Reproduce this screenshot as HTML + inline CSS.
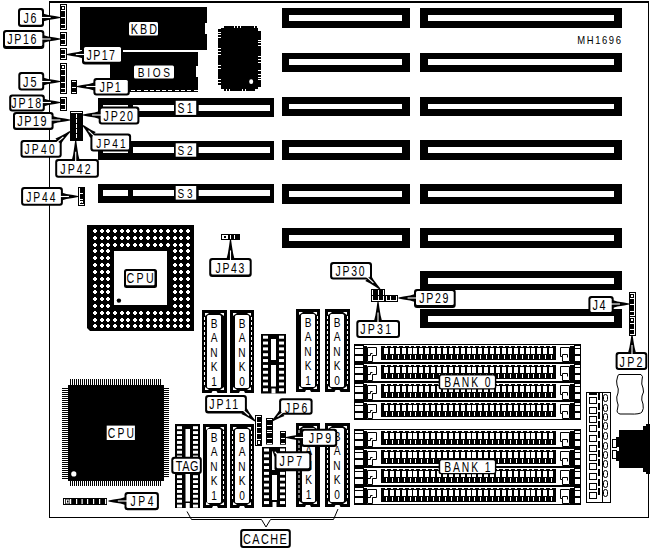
<!DOCTYPE html>
<html><head><meta charset="utf-8"><style>
html,body{margin:0;padding:0;background:#fff;}
svg{display:block;}
text{font-family:"Liberation Sans", sans-serif;}
</style></head><body>
<svg width="652" height="551" viewBox="0 0 652 551">
<g>
<rect x="0" y="0" width="652" height="551" fill="#fff"/>
<rect x="49" y="1" width="600" height="2" fill="#000" />
<rect x="49" y="1" width="1" height="517" fill="#000" />
<rect x="648" y="1" width="1" height="517" fill="#000" />
<rect x="49" y="517" width="600" height="1" fill="#000" />
<rect x="282" y="8" width="128" height="20" fill="#000" />
<rect x="289" y="15" width="113" height="6" fill="#fff" />
<rect x="420" y="8" width="202" height="20" fill="#000" />
<rect x="428" y="15" width="186" height="6" fill="#fff" />
<rect x="282" y="53" width="128" height="19" fill="#000" />
<rect x="289" y="59" width="113" height="6" fill="#fff" />
<rect x="420" y="53" width="202" height="19" fill="#000" />
<rect x="428" y="59" width="186" height="6" fill="#fff" />
<rect x="282" y="97" width="128" height="19" fill="#000" />
<rect x="289" y="104" width="113" height="5" fill="#fff" />
<rect x="420" y="97" width="202" height="19" fill="#000" />
<rect x="428" y="104" width="186" height="5" fill="#fff" />
<rect x="282" y="140" width="128" height="20" fill="#000" />
<rect x="289" y="147" width="113" height="6" fill="#fff" />
<rect x="420" y="140" width="202" height="20" fill="#000" />
<rect x="428" y="147" width="186" height="6" fill="#fff" />
<rect x="282" y="184" width="128" height="20" fill="#000" />
<rect x="289" y="191" width="113" height="6" fill="#fff" />
<rect x="420" y="184" width="202" height="20" fill="#000" />
<rect x="428" y="191" width="186" height="6" fill="#fff" />
<rect x="282" y="228" width="128" height="20" fill="#000" />
<rect x="289" y="235" width="113" height="6" fill="#fff" />
<rect x="420" y="228" width="202" height="20" fill="#000" />
<rect x="428" y="235" width="186" height="6" fill="#fff" />
<rect x="420" y="271" width="202" height="19" fill="#000" />
<rect x="428" y="278" width="186" height="6" fill="#fff" />
<rect x="420" y="309" width="202" height="19" fill="#000" />
<rect x="428" y="316" width="186" height="6" fill="#fff" />
<rect x="98" y="98" width="176" height="19" fill="#000" />
<rect x="103" y="105" width="25" height="6" fill="#fff" />
<rect x="133" y="105" width="41" height="6" fill="#fff" />
<rect x="198.7" y="105" width="71.3" height="6" fill="#fff" />
<rect x="98" y="141" width="176" height="19" fill="#000" />
<rect x="103" y="147" width="25" height="6" fill="#fff" />
<rect x="133" y="147" width="41" height="6" fill="#fff" />
<rect x="198.7" y="147" width="71.3" height="6" fill="#fff" />
<rect x="98" y="184" width="176" height="19" fill="#000" />
<rect x="103" y="190" width="25" height="6" fill="#fff" />
<rect x="133" y="190" width="41" height="6" fill="#fff" />
<rect x="198.7" y="190" width="71.3" height="6" fill="#fff" />
<rect x="80" y="7" width="127" height="43" fill="#000" />
<rect x="205" y="23" width="2" height="11" fill="#fff" />
<rect x="122" y="50" width="85" height="1" fill="#fff" />
<rect x="110" y="52" width="88" height="40" fill="#000" />
<rect x="196" y="66" width="2" height="11" fill="#fff" />
<rect x="131" y="90" width="4" height="1" fill="#fff" />
<rect x="137" y="90" width="4" height="1" fill="#fff" />
<rect x="144" y="90" width="4" height="1" fill="#fff" />
<rect x="150" y="90" width="4" height="1" fill="#fff" />
<rect x="156" y="90" width="4" height="1" fill="#fff" />
<rect x="162" y="90" width="4" height="1" fill="#fff" />
<rect x="168" y="90" width="4" height="1" fill="#fff" />
<rect x="175" y="90" width="4" height="1" fill="#fff" />
<rect x="181" y="90" width="4" height="1" fill="#fff" />
<rect x="187" y="90" width="4" height="1" fill="#fff" />
<rect x="194" y="90" width="4" height="1" fill="#fff" />
<rect x="129" y="22" width="29" height="13.5" fill="#fff"  rx="1.5"/>
<text transform="translate(130.80,33.90) scale(0.75,1)" font-size="14.35" textLength="35.07" lengthAdjust="spacing" fill="#000">KBD</text>
<rect x="134" y="65.5" width="40" height="13.0" fill="#fff"  rx="1.5"/>
<text transform="translate(137.80,76.90) scale(0.75,1)" font-size="13.48" textLength="42.93" lengthAdjust="spacing" fill="#000">BIOS</text>
<polygon points="224,26 257,26 257,28 258,28 258,31 261,31 261,87 258,87 258,89 255,89 255,91 224,91 224,89 221,89 221,85 218,85 218,29 221,29 221,28 224,28" fill="#000" />
<rect x="218" y="32" width="3" height="1" fill="#fff" />
<rect x="218" y="34" width="3" height="1" fill="#fff" />
<rect x="218" y="37" width="3" height="1" fill="#fff" />
<rect x="218" y="48" width="3" height="1" fill="#fff" />
<rect x="218" y="51" width="3" height="1" fill="#fff" />
<rect x="218" y="54" width="3" height="1" fill="#fff" />
<rect x="218" y="65" width="3" height="1" fill="#fff" />
<rect x="218" y="68" width="3" height="1" fill="#fff" />
<rect x="218" y="79" width="3" height="1" fill="#fff" />
<rect x="218" y="82" width="3" height="1" fill="#fff" />
<rect x="258" y="40" width="3" height="1" fill="#fff" />
<rect x="258" y="42" width="3" height="1" fill="#fff" />
<rect x="258" y="45" width="3" height="1" fill="#fff" />
<rect x="258" y="56" width="3" height="1" fill="#fff" />
<rect x="258" y="59" width="3" height="1" fill="#fff" />
<rect x="258" y="62" width="3" height="1" fill="#fff" />
<rect x="258" y="70" width="3" height="1" fill="#fff" />
<rect x="258" y="74" width="3" height="1" fill="#fff" />
<rect x="258" y="77" width="3" height="1" fill="#fff" />
<rect x="258" y="79" width="3" height="1" fill="#fff" />
<rect x="234" y="26" width="1" height="2" fill="#fff" />
<rect x="237" y="26" width="1" height="2" fill="#fff" />
<rect x="240" y="26" width="1" height="2" fill="#fff" />
<rect x="254" y="26" width="1" height="2" fill="#fff" />
<rect x="257" y="26" width="1" height="2" fill="#fff" />
<rect x="226" y="89" width="1" height="2" fill="#fff" />
<rect x="229" y="89" width="1" height="2" fill="#fff" />
<rect x="242" y="89" width="1" height="2" fill="#fff" />
<rect x="245" y="89" width="1" height="2" fill="#fff" />
<ellipse cx="251.2" cy="81.7" rx="2" ry="2.4" fill="#fff"/>
<polygon points="87,225 194,225 194,331 90,331 87,328" fill="#000" />
<rect x="114" y="251" width="53" height="54" fill="#fff" />
<path d="M94,229h2v1h1v2h-1v1h-2v-1h-1v-2h1zM101,229h2v1h1v2h-1v1h-2v-1h-1v-2h1zM107,229h2v1h1v2h-1v1h-2v-1h-1v-2h1zM114,229h2v1h1v2h-1v1h-2v-1h-1v-2h1zM121,229h2v1h1v2h-1v1h-2v-1h-1v-2h1zM127,229h2v1h1v2h-1v1h-2v-1h-1v-2h1zM134,229h2v1h1v2h-1v1h-2v-1h-1v-2h1zM140,229h2v1h1v2h-1v1h-2v-1h-1v-2h1zM147,229h2v1h1v2h-1v1h-2v-1h-1v-2h1zM154,229h2v1h1v2h-1v1h-2v-1h-1v-2h1zM160,229h2v1h1v2h-1v1h-2v-1h-1v-2h1zM167,229h2v1h1v2h-1v1h-2v-1h-1v-2h1zM174,229h2v1h1v2h-1v1h-2v-1h-1v-2h1zM180,229h2v1h1v2h-1v1h-2v-1h-1v-2h1zM187,229h2v1h1v2h-1v1h-2v-1h-1v-2h1zM94,236h2v1h1v2h-1v1h-2v-1h-1v-2h1zM101,236h2v1h1v2h-1v1h-2v-1h-1v-2h1zM107,236h2v1h1v2h-1v1h-2v-1h-1v-2h1zM114,236h2v1h1v2h-1v1h-2v-1h-1v-2h1zM121,236h2v1h1v2h-1v1h-2v-1h-1v-2h1zM127,236h2v1h1v2h-1v1h-2v-1h-1v-2h1zM134,236h2v1h1v2h-1v1h-2v-1h-1v-2h1zM140,236h2v1h1v2h-1v1h-2v-1h-1v-2h1zM147,236h2v1h1v2h-1v1h-2v-1h-1v-2h1zM154,236h2v1h1v2h-1v1h-2v-1h-1v-2h1zM160,236h2v1h1v2h-1v1h-2v-1h-1v-2h1zM167,236h2v1h1v2h-1v1h-2v-1h-1v-2h1zM174,236h2v1h1v2h-1v1h-2v-1h-1v-2h1zM180,236h2v1h1v2h-1v1h-2v-1h-1v-2h1zM187,236h2v1h1v2h-1v1h-2v-1h-1v-2h1zM94,243h2v1h1v2h-1v1h-2v-1h-1v-2h1zM101,243h2v1h1v2h-1v1h-2v-1h-1v-2h1zM107,243h2v1h1v2h-1v1h-2v-1h-1v-2h1zM114,243h2v1h1v2h-1v1h-2v-1h-1v-2h1zM121,243h2v1h1v2h-1v1h-2v-1h-1v-2h1zM127,243h2v1h1v2h-1v1h-2v-1h-1v-2h1zM134,243h2v1h1v2h-1v1h-2v-1h-1v-2h1zM140,243h2v1h1v2h-1v1h-2v-1h-1v-2h1zM147,243h2v1h1v2h-1v1h-2v-1h-1v-2h1zM154,243h2v1h1v2h-1v1h-2v-1h-1v-2h1zM160,243h2v1h1v2h-1v1h-2v-1h-1v-2h1zM167,243h2v1h1v2h-1v1h-2v-1h-1v-2h1zM174,243h2v1h1v2h-1v1h-2v-1h-1v-2h1zM180,243h2v1h1v2h-1v1h-2v-1h-1v-2h1zM187,243h2v1h1v2h-1v1h-2v-1h-1v-2h1zM94,249h2v1h1v2h-1v1h-2v-1h-1v-2h1zM101,249h2v1h1v2h-1v1h-2v-1h-1v-2h1zM107,249h2v1h1v2h-1v1h-2v-1h-1v-2h1zM174,249h2v1h1v2h-1v1h-2v-1h-1v-2h1zM180,249h2v1h1v2h-1v1h-2v-1h-1v-2h1zM187,249h2v1h1v2h-1v1h-2v-1h-1v-2h1zM94,256h2v1h1v2h-1v1h-2v-1h-1v-2h1zM101,256h2v1h1v2h-1v1h-2v-1h-1v-2h1zM107,256h2v1h1v2h-1v1h-2v-1h-1v-2h1zM174,256h2v1h1v2h-1v1h-2v-1h-1v-2h1zM180,256h2v1h1v2h-1v1h-2v-1h-1v-2h1zM187,256h2v1h1v2h-1v1h-2v-1h-1v-2h1zM94,263h2v1h1v2h-1v1h-2v-1h-1v-2h1zM101,263h2v1h1v2h-1v1h-2v-1h-1v-2h1zM107,263h2v1h1v2h-1v1h-2v-1h-1v-2h1zM174,263h2v1h1v2h-1v1h-2v-1h-1v-2h1zM180,263h2v1h1v2h-1v1h-2v-1h-1v-2h1zM187,263h2v1h1v2h-1v1h-2v-1h-1v-2h1zM94,270h2v1h1v2h-1v1h-2v-1h-1v-2h1zM101,270h2v1h1v2h-1v1h-2v-1h-1v-2h1zM107,270h2v1h1v2h-1v1h-2v-1h-1v-2h1zM174,270h2v1h1v2h-1v1h-2v-1h-1v-2h1zM180,270h2v1h1v2h-1v1h-2v-1h-1v-2h1zM187,270h2v1h1v2h-1v1h-2v-1h-1v-2h1zM94,277h2v1h1v2h-1v1h-2v-1h-1v-2h1zM101,277h2v1h1v2h-1v1h-2v-1h-1v-2h1zM107,277h2v1h1v2h-1v1h-2v-1h-1v-2h1zM174,277h2v1h1v2h-1v1h-2v-1h-1v-2h1zM180,277h2v1h1v2h-1v1h-2v-1h-1v-2h1zM187,277h2v1h1v2h-1v1h-2v-1h-1v-2h1zM94,284h2v1h1v2h-1v1h-2v-1h-1v-2h1zM101,284h2v1h1v2h-1v1h-2v-1h-1v-2h1zM107,284h2v1h1v2h-1v1h-2v-1h-1v-2h1zM174,284h2v1h1v2h-1v1h-2v-1h-1v-2h1zM180,284h2v1h1v2h-1v1h-2v-1h-1v-2h1zM187,284h2v1h1v2h-1v1h-2v-1h-1v-2h1zM94,290h2v1h1v2h-1v1h-2v-1h-1v-2h1zM101,290h2v1h1v2h-1v1h-2v-1h-1v-2h1zM107,290h2v1h1v2h-1v1h-2v-1h-1v-2h1zM174,290h2v1h1v2h-1v1h-2v-1h-1v-2h1zM180,290h2v1h1v2h-1v1h-2v-1h-1v-2h1zM187,290h2v1h1v2h-1v1h-2v-1h-1v-2h1zM94,297h2v1h1v2h-1v1h-2v-1h-1v-2h1zM101,297h2v1h1v2h-1v1h-2v-1h-1v-2h1zM107,297h2v1h1v2h-1v1h-2v-1h-1v-2h1zM174,297h2v1h1v2h-1v1h-2v-1h-1v-2h1zM180,297h2v1h1v2h-1v1h-2v-1h-1v-2h1zM187,297h2v1h1v2h-1v1h-2v-1h-1v-2h1zM94,304h2v1h1v2h-1v1h-2v-1h-1v-2h1zM101,304h2v1h1v2h-1v1h-2v-1h-1v-2h1zM107,304h2v1h1v2h-1v1h-2v-1h-1v-2h1zM174,304h2v1h1v2h-1v1h-2v-1h-1v-2h1zM180,304h2v1h1v2h-1v1h-2v-1h-1v-2h1zM187,304h2v1h1v2h-1v1h-2v-1h-1v-2h1zM94,311h2v1h1v2h-1v1h-2v-1h-1v-2h1zM101,311h2v1h1v2h-1v1h-2v-1h-1v-2h1zM107,311h2v1h1v2h-1v1h-2v-1h-1v-2h1zM114,311h2v1h1v2h-1v1h-2v-1h-1v-2h1zM121,311h2v1h1v2h-1v1h-2v-1h-1v-2h1zM127,311h2v1h1v2h-1v1h-2v-1h-1v-2h1zM134,311h2v1h1v2h-1v1h-2v-1h-1v-2h1zM140,311h2v1h1v2h-1v1h-2v-1h-1v-2h1zM147,311h2v1h1v2h-1v1h-2v-1h-1v-2h1zM154,311h2v1h1v2h-1v1h-2v-1h-1v-2h1zM160,311h2v1h1v2h-1v1h-2v-1h-1v-2h1zM167,311h2v1h1v2h-1v1h-2v-1h-1v-2h1zM174,311h2v1h1v2h-1v1h-2v-1h-1v-2h1zM180,311h2v1h1v2h-1v1h-2v-1h-1v-2h1zM187,311h2v1h1v2h-1v1h-2v-1h-1v-2h1zM94,318h2v1h1v2h-1v1h-2v-1h-1v-2h1zM101,318h2v1h1v2h-1v1h-2v-1h-1v-2h1zM107,318h2v1h1v2h-1v1h-2v-1h-1v-2h1zM114,318h2v1h1v2h-1v1h-2v-1h-1v-2h1zM121,318h2v1h1v2h-1v1h-2v-1h-1v-2h1zM127,318h2v1h1v2h-1v1h-2v-1h-1v-2h1zM134,318h2v1h1v2h-1v1h-2v-1h-1v-2h1zM140,318h2v1h1v2h-1v1h-2v-1h-1v-2h1zM147,318h2v1h1v2h-1v1h-2v-1h-1v-2h1zM154,318h2v1h1v2h-1v1h-2v-1h-1v-2h1zM160,318h2v1h1v2h-1v1h-2v-1h-1v-2h1zM167,318h2v1h1v2h-1v1h-2v-1h-1v-2h1zM174,318h2v1h1v2h-1v1h-2v-1h-1v-2h1zM180,318h2v1h1v2h-1v1h-2v-1h-1v-2h1zM187,318h2v1h1v2h-1v1h-2v-1h-1v-2h1zM94,324h2v1h1v2h-1v1h-2v-1h-1v-2h1zM101,324h2v1h1v2h-1v1h-2v-1h-1v-2h1zM107,324h2v1h1v2h-1v1h-2v-1h-1v-2h1zM114,324h2v1h1v2h-1v1h-2v-1h-1v-2h1zM121,324h2v1h1v2h-1v1h-2v-1h-1v-2h1zM127,324h2v1h1v2h-1v1h-2v-1h-1v-2h1zM134,324h2v1h1v2h-1v1h-2v-1h-1v-2h1zM140,324h2v1h1v2h-1v1h-2v-1h-1v-2h1zM147,324h2v1h1v2h-1v1h-2v-1h-1v-2h1zM154,324h2v1h1v2h-1v1h-2v-1h-1v-2h1zM160,324h2v1h1v2h-1v1h-2v-1h-1v-2h1zM167,324h2v1h1v2h-1v1h-2v-1h-1v-2h1zM174,324h2v1h1v2h-1v1h-2v-1h-1v-2h1zM180,324h2v1h1v2h-1v1h-2v-1h-1v-2h1zM187,324h2v1h1v2h-1v1h-2v-1h-1v-2h1z" fill="#fff"/>
<circle cx="118.9" cy="300.6" r="2.2" fill="#000"/>
<rect x="124" y="269" width="33" height="19" fill="#000"  rx="2.5"/>
<rect x="126" y="271" width="28.5" height="14.3" fill="#fff"  rx="1"/>
<text transform="translate(126.60,282.60) scale(0.75,1)" font-size="14.20" textLength="36.00" lengthAdjust="spacing" fill="#000">CPU</text>
<rect x="68" y="385" width="96" height="96" fill="#000" />
<defs><pattern id="pv" width="2" height="10" patternUnits="userSpaceOnUse"><rect x="0" y="0" width="1" height="10" fill="#000"/></pattern><pattern id="ph" width="10" height="2" patternUnits="userSpaceOnUse"><rect x="0" y="0" width="10" height="1" fill="#000"/></pattern></defs>
<rect x="70" y="379" width="92" height="6" fill="url(#pv)" />
<rect x="70" y="481" width="92" height="5" fill="url(#pv)" />
<rect x="62" y="388" width="6" height="91" fill="url(#ph)" />
<rect x="164" y="387" width="5" height="91" fill="url(#ph)" />
<circle cx="73.8" cy="473.9" r="2.6" fill="#fff"/>
<rect x="106.7" y="425.6" width="28.2" height="14.4" fill="#fff" />
<text transform="translate(107.80,438.00) scale(0.75,1)" font-size="13.77" textLength="34.80" lengthAdjust="spacing" fill="#000">CPU</text>
<rect x="202" y="310" width="25" height="83" fill="#000" />
<rect x="207" y="315" width="14" height="73" fill="#fff"  rx="1.5"/>
<polygon points="205,313 209,313 205,316" fill="#fff" />
<polygon points="224,313 220,313 224,316" fill="#fff" />
<polygon points="205,390 209,390 205,387" fill="#fff" />
<polygon points="224,390 220,390 224,387" fill="#fff" />
<rect x="204" y="317" width="1" height="3" fill="#fff" />
<rect x="204" y="322" width="1" height="3" fill="#fff" />
<rect x="204" y="327" width="1" height="3" fill="#fff" />
<rect x="204" y="332" width="1" height="3" fill="#fff" />
<rect x="204" y="337" width="1" height="3" fill="#fff" />
<rect x="204" y="342" width="1" height="3" fill="#fff" />
<rect x="204" y="347" width="1" height="3" fill="#fff" />
<rect x="204" y="352" width="1" height="3" fill="#fff" />
<rect x="204" y="357" width="1" height="3" fill="#fff" />
<rect x="204" y="362" width="1" height="3" fill="#fff" />
<rect x="204" y="367" width="1" height="3" fill="#fff" />
<rect x="204" y="372" width="1" height="3" fill="#fff" />
<rect x="204" y="377" width="1" height="3" fill="#fff" />
<rect x="204" y="382" width="1" height="3" fill="#fff" />
<text transform="translate(214.00,327.50) scale(0.78,1)" font-size="13" text-anchor="middle">B</text>
<text transform="translate(214.00,342.00) scale(0.78,1)" font-size="13" text-anchor="middle">A</text>
<text transform="translate(214.00,356.50) scale(0.78,1)" font-size="13" text-anchor="middle">N</text>
<text transform="translate(214.00,371.00) scale(0.78,1)" font-size="13" text-anchor="middle">K</text>
<text transform="translate(214.00,385.50) scale(0.78,1)" font-size="13" text-anchor="middle">1</text>
<polygon points="211.5,393 212.5,391 216.5,391 217.5,393" fill="#fff" />
<rect x="230" y="310" width="24" height="83" fill="#000" />
<rect x="235" y="315" width="14" height="73" fill="#fff"  rx="1.5"/>
<polygon points="233,313 237,313 233,316" fill="#fff" />
<polygon points="251,313 247,313 251,316" fill="#fff" />
<polygon points="233,390 237,390 233,387" fill="#fff" />
<polygon points="251,390 247,390 251,387" fill="#fff" />
<rect x="251" y="317" width="1" height="3" fill="#fff" />
<rect x="251" y="322" width="1" height="3" fill="#fff" />
<rect x="251" y="327" width="1" height="3" fill="#fff" />
<rect x="251" y="332" width="1" height="3" fill="#fff" />
<rect x="251" y="337" width="1" height="3" fill="#fff" />
<rect x="251" y="342" width="1" height="3" fill="#fff" />
<rect x="251" y="347" width="1" height="3" fill="#fff" />
<rect x="251" y="352" width="1" height="3" fill="#fff" />
<rect x="251" y="357" width="1" height="3" fill="#fff" />
<rect x="251" y="362" width="1" height="3" fill="#fff" />
<rect x="251" y="367" width="1" height="3" fill="#fff" />
<rect x="251" y="372" width="1" height="3" fill="#fff" />
<rect x="251" y="377" width="1" height="3" fill="#fff" />
<rect x="251" y="382" width="1" height="3" fill="#fff" />
<text transform="translate(242.00,327.50) scale(0.78,1)" font-size="13" text-anchor="middle">B</text>
<text transform="translate(242.00,342.00) scale(0.78,1)" font-size="13" text-anchor="middle">A</text>
<text transform="translate(242.00,356.50) scale(0.78,1)" font-size="13" text-anchor="middle">N</text>
<text transform="translate(242.00,371.00) scale(0.78,1)" font-size="13" text-anchor="middle">K</text>
<text transform="translate(242.00,385.50) scale(0.78,1)" font-size="13" text-anchor="middle">0</text>
<polygon points="239.0,393 240.0,391 244.0,391 245.0,393" fill="#fff" />
<rect x="261" y="334" width="25" height="59.5" fill="#000" />
<rect x="263" y="335.7" width="5" height="3.0" fill="#fff" />
<rect x="279" y="335.7" width="5" height="3.0" fill="#fff" />
<rect x="263" y="341.53999999999996" width="5" height="3.0" fill="#fff" />
<rect x="279" y="341.53999999999996" width="5" height="3.0" fill="#fff" />
<rect x="263" y="347.38" width="5" height="3.0" fill="#fff" />
<rect x="279" y="347.38" width="5" height="3.0" fill="#fff" />
<rect x="263" y="353.21999999999997" width="5" height="3.0" fill="#fff" />
<rect x="279" y="353.21999999999997" width="5" height="3.0" fill="#fff" />
<rect x="263" y="359.06" width="5" height="3.0" fill="#fff" />
<rect x="279" y="359.06" width="5" height="3.0" fill="#fff" />
<rect x="263" y="364.9" width="5" height="3.0" fill="#fff" />
<rect x="279" y="364.9" width="5" height="3.0" fill="#fff" />
<rect x="263" y="370.74" width="5" height="3.0" fill="#fff" />
<rect x="279" y="370.74" width="5" height="3.0" fill="#fff" />
<rect x="263" y="376.58" width="5" height="3.0" fill="#fff" />
<rect x="279" y="376.58" width="5" height="3.0" fill="#fff" />
<rect x="263" y="382.41999999999996" width="5" height="3.0" fill="#fff" />
<rect x="279" y="382.41999999999996" width="5" height="3.0" fill="#fff" />
<rect x="263" y="388.26" width="5" height="3.0" fill="#fff" />
<rect x="279" y="388.26" width="5" height="3.0" fill="#fff" />
<rect x="271" y="339" width="5" height="21" fill="#fff" />
<rect x="271" y="365" width="5" height="21.5" fill="#fff" />
<rect x="271.5" y="388.5" width="4.0" height="5.0" fill="#fff" />
<rect x="296" y="309" width="24" height="83" fill="#000" />
<rect x="301" y="314" width="14" height="73" fill="#fff"  rx="1.5"/>
<polygon points="299,312 303,312 299,315" fill="#fff" />
<polygon points="317,312 313,312 317,315" fill="#fff" />
<polygon points="299,389 303,389 299,386" fill="#fff" />
<polygon points="317,389 313,389 317,386" fill="#fff" />
<rect x="317" y="316" width="1" height="3" fill="#fff" />
<rect x="317" y="321" width="1" height="3" fill="#fff" />
<rect x="317" y="326" width="1" height="3" fill="#fff" />
<rect x="317" y="331" width="1" height="3" fill="#fff" />
<rect x="317" y="336" width="1" height="3" fill="#fff" />
<rect x="317" y="341" width="1" height="3" fill="#fff" />
<rect x="317" y="346" width="1" height="3" fill="#fff" />
<rect x="317" y="351" width="1" height="3" fill="#fff" />
<rect x="317" y="356" width="1" height="3" fill="#fff" />
<rect x="317" y="361" width="1" height="3" fill="#fff" />
<rect x="317" y="366" width="1" height="3" fill="#fff" />
<rect x="317" y="371" width="1" height="3" fill="#fff" />
<rect x="317" y="376" width="1" height="3" fill="#fff" />
<rect x="317" y="381" width="1" height="3" fill="#fff" />
<text transform="translate(308.00,326.50) scale(0.78,1)" font-size="13" text-anchor="middle">B</text>
<text transform="translate(308.00,341.00) scale(0.78,1)" font-size="13" text-anchor="middle">A</text>
<text transform="translate(308.00,355.50) scale(0.78,1)" font-size="13" text-anchor="middle">N</text>
<text transform="translate(308.00,370.00) scale(0.78,1)" font-size="13" text-anchor="middle">K</text>
<text transform="translate(308.00,384.50) scale(0.78,1)" font-size="13" text-anchor="middle">1</text>
<polygon points="305.0,392 306.0,390 310.0,390 311.0,392" fill="#fff" />
<rect x="325" y="309" width="25" height="83" fill="#000" />
<rect x="330" y="314" width="14" height="73" fill="#fff"  rx="1.5"/>
<polygon points="328,312 332,312 328,315" fill="#fff" />
<polygon points="347,312 343,312 347,315" fill="#fff" />
<polygon points="328,389 332,389 328,386" fill="#fff" />
<polygon points="347,389 343,389 347,386" fill="#fff" />
<rect x="327" y="316" width="1" height="3" fill="#fff" />
<rect x="327" y="321" width="1" height="3" fill="#fff" />
<rect x="327" y="326" width="1" height="3" fill="#fff" />
<rect x="327" y="331" width="1" height="3" fill="#fff" />
<rect x="327" y="336" width="1" height="3" fill="#fff" />
<rect x="327" y="341" width="1" height="3" fill="#fff" />
<rect x="327" y="346" width="1" height="3" fill="#fff" />
<rect x="327" y="351" width="1" height="3" fill="#fff" />
<rect x="327" y="356" width="1" height="3" fill="#fff" />
<rect x="327" y="361" width="1" height="3" fill="#fff" />
<rect x="327" y="366" width="1" height="3" fill="#fff" />
<rect x="327" y="371" width="1" height="3" fill="#fff" />
<rect x="327" y="376" width="1" height="3" fill="#fff" />
<rect x="327" y="381" width="1" height="3" fill="#fff" />
<rect x="347" y="316" width="1" height="3" fill="#fff" />
<rect x="347" y="321" width="1" height="3" fill="#fff" />
<rect x="347" y="326" width="1" height="3" fill="#fff" />
<rect x="347" y="331" width="1" height="3" fill="#fff" />
<rect x="347" y="336" width="1" height="3" fill="#fff" />
<rect x="347" y="341" width="1" height="3" fill="#fff" />
<rect x="347" y="346" width="1" height="3" fill="#fff" />
<rect x="347" y="351" width="1" height="3" fill="#fff" />
<rect x="347" y="356" width="1" height="3" fill="#fff" />
<rect x="347" y="361" width="1" height="3" fill="#fff" />
<rect x="347" y="366" width="1" height="3" fill="#fff" />
<rect x="347" y="371" width="1" height="3" fill="#fff" />
<rect x="347" y="376" width="1" height="3" fill="#fff" />
<rect x="347" y="381" width="1" height="3" fill="#fff" />
<text transform="translate(337.00,326.50) scale(0.78,1)" font-size="13" text-anchor="middle">B</text>
<text transform="translate(337.00,341.00) scale(0.78,1)" font-size="13" text-anchor="middle">A</text>
<text transform="translate(337.00,355.50) scale(0.78,1)" font-size="13" text-anchor="middle">N</text>
<text transform="translate(337.00,370.00) scale(0.78,1)" font-size="13" text-anchor="middle">K</text>
<text transform="translate(337.00,384.50) scale(0.78,1)" font-size="13" text-anchor="middle">0</text>
<polygon points="334.5,392 335.5,390 339.5,390 340.5,392" fill="#fff" />
<rect x="175" y="424" width="25" height="84" fill="#000" />
<rect x="177" y="426.2" width="5" height="3.0" fill="#fff" />
<rect x="193" y="426.2" width="5" height="3.0" fill="#fff" />
<rect x="177" y="431.09999999999997" width="5" height="3.0" fill="#fff" />
<rect x="193" y="431.09999999999997" width="5" height="3.0" fill="#fff" />
<rect x="177" y="436.0" width="5" height="3.0" fill="#fff" />
<rect x="193" y="436.0" width="5" height="3.0" fill="#fff" />
<rect x="177" y="440.9" width="5" height="3.0" fill="#fff" />
<rect x="193" y="440.9" width="5" height="3.0" fill="#fff" />
<rect x="177" y="445.8" width="5" height="3.0" fill="#fff" />
<rect x="193" y="445.8" width="5" height="3.0" fill="#fff" />
<rect x="177" y="450.7" width="5" height="3.0" fill="#fff" />
<rect x="193" y="450.7" width="5" height="3.0" fill="#fff" />
<rect x="177" y="455.59999999999997" width="5" height="3.0" fill="#fff" />
<rect x="193" y="455.59999999999997" width="5" height="3.0" fill="#fff" />
<rect x="177" y="460.5" width="5" height="3.0" fill="#fff" />
<rect x="193" y="460.5" width="5" height="3.0" fill="#fff" />
<rect x="177" y="465.4" width="5" height="3.0" fill="#fff" />
<rect x="193" y="465.4" width="5" height="3.0" fill="#fff" />
<rect x="177" y="470.3" width="5" height="3.0" fill="#fff" />
<rect x="193" y="470.3" width="5" height="3.0" fill="#fff" />
<rect x="177" y="475.2" width="5" height="3.0" fill="#fff" />
<rect x="193" y="475.2" width="5" height="3.0" fill="#fff" />
<rect x="177" y="480.1" width="5" height="3.0" fill="#fff" />
<rect x="193" y="480.1" width="5" height="3.0" fill="#fff" />
<rect x="177" y="485.0" width="5" height="3.0" fill="#fff" />
<rect x="193" y="485.0" width="5" height="3.0" fill="#fff" />
<rect x="177" y="489.9" width="5" height="3.0" fill="#fff" />
<rect x="193" y="489.9" width="5" height="3.0" fill="#fff" />
<rect x="177" y="494.8" width="5" height="3.0" fill="#fff" />
<rect x="193" y="494.8" width="5" height="3.0" fill="#fff" />
<rect x="177" y="499.7" width="5" height="3.0" fill="#fff" />
<rect x="193" y="499.7" width="5" height="3.0" fill="#fff" />
<rect x="177" y="504.6" width="5" height="3.0" fill="#fff" />
<rect x="193" y="504.6" width="5" height="3.0" fill="#fff" />
<rect x="185.5" y="429" width="4.5" height="72.5" fill="#fff" />
<rect x="185.75" y="503" width="4.0" height="5" fill="#fff" />
<rect x="203" y="424" width="24" height="84" fill="#000" />
<rect x="207" y="429" width="14" height="74" fill="#fff"  rx="1.5"/>
<polygon points="206,427 210,427 206,430" fill="#fff" />
<polygon points="224,427 220,427 224,430" fill="#fff" />
<polygon points="206,505 210,505 206,502" fill="#fff" />
<polygon points="224,505 220,505 224,502" fill="#fff" />
<rect x="223" y="431" width="1" height="3" fill="#fff" />
<rect x="223" y="436" width="1" height="3" fill="#fff" />
<rect x="223" y="441" width="1" height="3" fill="#fff" />
<rect x="223" y="446" width="1" height="3" fill="#fff" />
<rect x="223" y="451" width="1" height="3" fill="#fff" />
<rect x="223" y="456" width="1" height="3" fill="#fff" />
<rect x="223" y="461" width="1" height="3" fill="#fff" />
<rect x="223" y="466" width="1" height="3" fill="#fff" />
<rect x="223" y="471" width="1" height="3" fill="#fff" />
<rect x="223" y="476" width="1" height="3" fill="#fff" />
<rect x="223" y="481" width="1" height="3" fill="#fff" />
<rect x="223" y="486" width="1" height="3" fill="#fff" />
<rect x="223" y="491" width="1" height="3" fill="#fff" />
<rect x="223" y="496" width="1" height="3" fill="#fff" />
<text transform="translate(214.00,441.50) scale(0.78,1)" font-size="13" text-anchor="middle">B</text>
<text transform="translate(214.00,456.00) scale(0.78,1)" font-size="13" text-anchor="middle">A</text>
<text transform="translate(214.00,470.50) scale(0.78,1)" font-size="13" text-anchor="middle">N</text>
<text transform="translate(214.00,485.00) scale(0.78,1)" font-size="13" text-anchor="middle">K</text>
<text transform="translate(214.00,499.50) scale(0.78,1)" font-size="13" text-anchor="middle">1</text>
<polygon points="212.0,508 213.0,506 217.0,506 218.0,508" fill="#fff" />
<rect x="230" y="424" width="24" height="84" fill="#000" />
<rect x="235" y="429" width="14" height="74" fill="#fff"  rx="1.5"/>
<polygon points="233,427 237,427 233,430" fill="#fff" />
<polygon points="251,427 247,427 251,430" fill="#fff" />
<polygon points="233,505 237,505 233,502" fill="#fff" />
<polygon points="251,505 247,505 251,502" fill="#fff" />
<rect x="232" y="431" width="1" height="3" fill="#fff" />
<rect x="232" y="436" width="1" height="3" fill="#fff" />
<rect x="232" y="441" width="1" height="3" fill="#fff" />
<rect x="232" y="446" width="1" height="3" fill="#fff" />
<rect x="232" y="451" width="1" height="3" fill="#fff" />
<rect x="232" y="456" width="1" height="3" fill="#fff" />
<rect x="232" y="461" width="1" height="3" fill="#fff" />
<rect x="232" y="466" width="1" height="3" fill="#fff" />
<rect x="232" y="471" width="1" height="3" fill="#fff" />
<rect x="232" y="476" width="1" height="3" fill="#fff" />
<rect x="232" y="481" width="1" height="3" fill="#fff" />
<rect x="232" y="486" width="1" height="3" fill="#fff" />
<rect x="232" y="491" width="1" height="3" fill="#fff" />
<rect x="232" y="496" width="1" height="3" fill="#fff" />
<rect x="251" y="431" width="1" height="3" fill="#fff" />
<rect x="251" y="436" width="1" height="3" fill="#fff" />
<rect x="251" y="441" width="1" height="3" fill="#fff" />
<rect x="251" y="446" width="1" height="3" fill="#fff" />
<rect x="251" y="451" width="1" height="3" fill="#fff" />
<rect x="251" y="456" width="1" height="3" fill="#fff" />
<rect x="251" y="461" width="1" height="3" fill="#fff" />
<rect x="251" y="466" width="1" height="3" fill="#fff" />
<rect x="251" y="471" width="1" height="3" fill="#fff" />
<rect x="251" y="476" width="1" height="3" fill="#fff" />
<rect x="251" y="481" width="1" height="3" fill="#fff" />
<rect x="251" y="486" width="1" height="3" fill="#fff" />
<rect x="251" y="491" width="1" height="3" fill="#fff" />
<rect x="251" y="496" width="1" height="3" fill="#fff" />
<text transform="translate(242.00,441.50) scale(0.78,1)" font-size="13" text-anchor="middle">B</text>
<text transform="translate(242.00,456.00) scale(0.78,1)" font-size="13" text-anchor="middle">A</text>
<text transform="translate(242.00,470.50) scale(0.78,1)" font-size="13" text-anchor="middle">N</text>
<text transform="translate(242.00,485.00) scale(0.78,1)" font-size="13" text-anchor="middle">K</text>
<text transform="translate(242.00,499.50) scale(0.78,1)" font-size="13" text-anchor="middle">0</text>
<polygon points="239.0,508 240.0,506 244.0,506 245.0,508" fill="#fff" />
<rect x="262" y="447" width="24" height="60" fill="#000" />
<rect x="264" y="448.5" width="5" height="3.0" fill="#fff" />
<rect x="280" y="448.5" width="5" height="3.0" fill="#fff" />
<rect x="264" y="454.34" width="5" height="3.0" fill="#fff" />
<rect x="280" y="454.34" width="5" height="3.0" fill="#fff" />
<rect x="264" y="460.18" width="5" height="3.0" fill="#fff" />
<rect x="280" y="460.18" width="5" height="3.0" fill="#fff" />
<rect x="264" y="466.02" width="5" height="3.0" fill="#fff" />
<rect x="280" y="466.02" width="5" height="3.0" fill="#fff" />
<rect x="264" y="471.86" width="5" height="3.0" fill="#fff" />
<rect x="280" y="471.86" width="5" height="3.0" fill="#fff" />
<rect x="264" y="477.7" width="5" height="3.0" fill="#fff" />
<rect x="280" y="477.7" width="5" height="3.0" fill="#fff" />
<rect x="264" y="483.54" width="5" height="3.0" fill="#fff" />
<rect x="280" y="483.54" width="5" height="3.0" fill="#fff" />
<rect x="264" y="489.38" width="5" height="3.0" fill="#fff" />
<rect x="280" y="489.38" width="5" height="3.0" fill="#fff" />
<rect x="264" y="495.22" width="5" height="3.0" fill="#fff" />
<rect x="280" y="495.22" width="5" height="3.0" fill="#fff" />
<rect x="264" y="501.06" width="5" height="3.0" fill="#fff" />
<rect x="280" y="501.06" width="5" height="3.0" fill="#fff" />
<rect x="272" y="451" width="5" height="19" fill="#fff" />
<rect x="272" y="475" width="5" height="25" fill="#fff" />
<rect x="272.5" y="502" width="4.0" height="5" fill="#fff" />
<rect x="296" y="423" width="24" height="84" fill="#000" />
<rect x="302" y="428" width="13" height="74" fill="#fff"  rx="1.5"/>
<polygon points="299,426 303,426 299,429" fill="#fff" />
<polygon points="317,426 313,426 317,429" fill="#fff" />
<polygon points="299,504 303,504 299,501" fill="#fff" />
<polygon points="317,504 313,504 317,501" fill="#fff" />
<rect x="298.5" y="430" width="1.0" height="3" fill="#fff" />
<rect x="298.5" y="435" width="1.0" height="3" fill="#fff" />
<rect x="298.5" y="440" width="1.0" height="3" fill="#fff" />
<rect x="298.5" y="445" width="1.0" height="3" fill="#fff" />
<rect x="298.5" y="450" width="1.0" height="3" fill="#fff" />
<rect x="298.5" y="455" width="1.0" height="3" fill="#fff" />
<rect x="298.5" y="460" width="1.0" height="3" fill="#fff" />
<rect x="298.5" y="465" width="1.0" height="3" fill="#fff" />
<rect x="298.5" y="470" width="1.0" height="3" fill="#fff" />
<rect x="298.5" y="475" width="1.0" height="3" fill="#fff" />
<rect x="298.5" y="480" width="1.0" height="3" fill="#fff" />
<rect x="298.5" y="485" width="1.0" height="3" fill="#fff" />
<rect x="298.5" y="490" width="1.0" height="3" fill="#fff" />
<rect x="298.5" y="495" width="1.0" height="3" fill="#fff" />
<text transform="translate(308.50,440.50) scale(0.78,1)" font-size="13" text-anchor="middle">B</text>
<text transform="translate(308.50,455.00) scale(0.78,1)" font-size="13" text-anchor="middle">A</text>
<text transform="translate(308.50,469.50) scale(0.78,1)" font-size="13" text-anchor="middle">N</text>
<text transform="translate(308.50,484.00) scale(0.78,1)" font-size="13" text-anchor="middle">K</text>
<text transform="translate(308.50,498.50) scale(0.78,1)" font-size="13" text-anchor="middle">1</text>
<polygon points="305.0,507 306.0,505 310.0,505 311.0,507" fill="#fff" />
<rect x="325" y="423" width="25" height="84" fill="#000" />
<rect x="330" y="428" width="14" height="74" fill="#fff"  rx="1.5"/>
<polygon points="328,426 332,426 328,429" fill="#fff" />
<polygon points="347,426 343,426 347,429" fill="#fff" />
<polygon points="328,504 332,504 328,501" fill="#fff" />
<polygon points="347,504 343,504 347,501" fill="#fff" />
<rect x="327" y="430" width="1" height="3" fill="#fff" />
<rect x="327" y="435" width="1" height="3" fill="#fff" />
<rect x="327" y="440" width="1" height="3" fill="#fff" />
<rect x="327" y="445" width="1" height="3" fill="#fff" />
<rect x="327" y="450" width="1" height="3" fill="#fff" />
<rect x="327" y="455" width="1" height="3" fill="#fff" />
<rect x="327" y="460" width="1" height="3" fill="#fff" />
<rect x="327" y="465" width="1" height="3" fill="#fff" />
<rect x="327" y="470" width="1" height="3" fill="#fff" />
<rect x="327" y="475" width="1" height="3" fill="#fff" />
<rect x="327" y="480" width="1" height="3" fill="#fff" />
<rect x="327" y="485" width="1" height="3" fill="#fff" />
<rect x="327" y="490" width="1" height="3" fill="#fff" />
<rect x="327" y="495" width="1" height="3" fill="#fff" />
<rect x="347" y="430" width="1" height="3" fill="#fff" />
<rect x="347" y="435" width="1" height="3" fill="#fff" />
<rect x="347" y="440" width="1" height="3" fill="#fff" />
<rect x="347" y="445" width="1" height="3" fill="#fff" />
<rect x="347" y="450" width="1" height="3" fill="#fff" />
<rect x="347" y="455" width="1" height="3" fill="#fff" />
<rect x="347" y="460" width="1" height="3" fill="#fff" />
<rect x="347" y="465" width="1" height="3" fill="#fff" />
<rect x="347" y="470" width="1" height="3" fill="#fff" />
<rect x="347" y="475" width="1" height="3" fill="#fff" />
<rect x="347" y="480" width="1" height="3" fill="#fff" />
<rect x="347" y="485" width="1" height="3" fill="#fff" />
<rect x="347" y="490" width="1" height="3" fill="#fff" />
<rect x="347" y="495" width="1" height="3" fill="#fff" />
<text transform="translate(337.00,440.50) scale(0.78,1)" font-size="13" text-anchor="middle">B</text>
<text transform="translate(337.00,455.00) scale(0.78,1)" font-size="13" text-anchor="middle">A</text>
<text transform="translate(337.00,469.50) scale(0.78,1)" font-size="13" text-anchor="middle">N</text>
<text transform="translate(337.00,484.00) scale(0.78,1)" font-size="13" text-anchor="middle">K</text>
<text transform="translate(337.00,498.50) scale(0.78,1)" font-size="13" text-anchor="middle">0</text>
<polygon points="334.5,507 335.5,505 339.5,505 340.5,507" fill="#fff" />
<rect x="354" y="344" width="227" height="1" fill="#000" />
<rect x="354" y="362" width="227" height="1" fill="#000" />
<rect x="354" y="344" width="1" height="19" fill="#000" />
<rect x="580" y="344" width="1" height="19" fill="#000" />
<rect x="355" y="345" width="9" height="17" fill="#000" />
<rect x="355" y="346" width="8" height="2" fill="#fff" />
<rect x="355" y="349" width="8" height="5" fill="#fff" />
<rect x="355" y="356" width="8" height="5" fill="#fff" />
<rect x="364" y="346" width="3" height="16" fill="#000" />
<path d="M367.5,347.5 H376.5 V355.5 H372.5 V361.5 H367.5 Z M367.5,355.5 H370.5 V353.5 H372.5" fill="#fff" stroke="#000" stroke-width="1"/>
<path d="M569.5,347.5 H560.5 V356.5 H562.5 V361.5 H569.5 Z M562.5,356.5 V354.5 H567.5 V357.5" fill="#fff" stroke="#000" stroke-width="1"/>
<rect x="570" y="346" width="4" height="16" fill="#000" />
<rect x="574" y="345" width="6" height="17" fill="#000" />
<rect x="575" y="346" width="5" height="2" fill="#fff" />
<rect x="575" y="349" width="5" height="5" fill="#fff" />
<rect x="575" y="356" width="5" height="5" fill="#fff" />
<rect x="381" y="346" width="175" height="14" fill="#000" />
<rect x="384" y="348" width="4" height="6" fill="#fff" />
<rect x="386" y="355" width="1" height="4" fill="#fff" />
<rect x="385" y="346" width="2" height="1" fill="#fff" />
<rect x="390" y="348" width="4" height="6" fill="#fff" />
<rect x="392" y="355" width="1" height="4" fill="#fff" />
<rect x="391" y="346" width="2" height="1" fill="#fff" />
<rect x="396" y="348" width="4" height="6" fill="#fff" />
<rect x="398" y="355" width="1" height="4" fill="#fff" />
<rect x="397" y="346" width="2" height="1" fill="#fff" />
<rect x="402" y="348" width="4" height="6" fill="#fff" />
<rect x="404" y="355" width="1" height="4" fill="#fff" />
<rect x="403" y="346" width="2" height="1" fill="#fff" />
<rect x="408" y="348" width="4" height="6" fill="#fff" />
<rect x="410" y="355" width="1" height="4" fill="#fff" />
<rect x="409" y="346" width="2" height="1" fill="#fff" />
<rect x="413" y="348" width="4" height="6" fill="#fff" />
<rect x="415" y="355" width="1" height="4" fill="#fff" />
<rect x="414" y="346" width="2" height="1" fill="#fff" />
<rect x="419" y="348" width="4" height="6" fill="#fff" />
<rect x="421" y="355" width="1" height="4" fill="#fff" />
<rect x="420" y="346" width="2" height="1" fill="#fff" />
<rect x="425" y="348" width="4" height="6" fill="#fff" />
<rect x="427" y="355" width="1" height="4" fill="#fff" />
<rect x="426" y="346" width="2" height="1" fill="#fff" />
<rect x="431" y="348" width="4" height="6" fill="#fff" />
<rect x="433" y="355" width="1" height="4" fill="#fff" />
<rect x="432" y="346" width="2" height="1" fill="#fff" />
<rect x="437" y="348" width="4" height="6" fill="#fff" />
<rect x="439" y="355" width="1" height="4" fill="#fff" />
<rect x="438" y="346" width="2" height="1" fill="#fff" />
<rect x="443" y="348" width="4" height="6" fill="#fff" />
<rect x="445" y="355" width="1" height="4" fill="#fff" />
<rect x="444" y="346" width="2" height="1" fill="#fff" />
<rect x="449" y="348" width="4" height="6" fill="#fff" />
<rect x="451" y="355" width="1" height="4" fill="#fff" />
<rect x="450" y="346" width="2" height="1" fill="#fff" />
<rect x="455" y="348" width="4" height="6" fill="#fff" />
<rect x="457" y="355" width="1" height="4" fill="#fff" />
<rect x="456" y="346" width="2" height="1" fill="#fff" />
<rect x="461" y="348" width="4" height="6" fill="#fff" />
<rect x="463" y="355" width="1" height="4" fill="#fff" />
<rect x="462" y="346" width="2" height="1" fill="#fff" />
<rect x="467" y="348" width="4" height="6" fill="#fff" />
<rect x="469" y="355" width="1" height="4" fill="#fff" />
<rect x="468" y="346" width="2" height="1" fill="#fff" />
<rect x="472" y="348" width="4" height="6" fill="#fff" />
<rect x="474" y="355" width="1" height="4" fill="#fff" />
<rect x="473" y="346" width="2" height="1" fill="#fff" />
<rect x="478" y="348" width="4" height="6" fill="#fff" />
<rect x="480" y="355" width="1" height="4" fill="#fff" />
<rect x="479" y="346" width="2" height="1" fill="#fff" />
<rect x="484" y="348" width="4" height="6" fill="#fff" />
<rect x="486" y="355" width="1" height="4" fill="#fff" />
<rect x="485" y="346" width="2" height="1" fill="#fff" />
<rect x="490" y="348" width="4" height="6" fill="#fff" />
<rect x="492" y="355" width="1" height="4" fill="#fff" />
<rect x="491" y="346" width="2" height="1" fill="#fff" />
<rect x="496" y="348" width="4" height="6" fill="#fff" />
<rect x="498" y="355" width="1" height="4" fill="#fff" />
<rect x="497" y="346" width="2" height="1" fill="#fff" />
<rect x="502" y="348" width="4" height="6" fill="#fff" />
<rect x="504" y="355" width="1" height="4" fill="#fff" />
<rect x="503" y="346" width="2" height="1" fill="#fff" />
<rect x="508" y="348" width="4" height="6" fill="#fff" />
<rect x="510" y="355" width="1" height="4" fill="#fff" />
<rect x="509" y="346" width="2" height="1" fill="#fff" />
<rect x="514" y="348" width="4" height="6" fill="#fff" />
<rect x="516" y="355" width="1" height="4" fill="#fff" />
<rect x="515" y="346" width="2" height="1" fill="#fff" />
<rect x="520" y="348" width="4" height="6" fill="#fff" />
<rect x="522" y="355" width="1" height="4" fill="#fff" />
<rect x="521" y="346" width="2" height="1" fill="#fff" />
<rect x="526" y="348" width="4" height="6" fill="#fff" />
<rect x="528" y="355" width="1" height="4" fill="#fff" />
<rect x="527" y="346" width="2" height="1" fill="#fff" />
<rect x="531" y="348" width="4" height="6" fill="#fff" />
<rect x="533" y="355" width="1" height="4" fill="#fff" />
<rect x="532" y="346" width="2" height="1" fill="#fff" />
<rect x="537" y="348" width="4" height="6" fill="#fff" />
<rect x="539" y="355" width="1" height="4" fill="#fff" />
<rect x="538" y="346" width="2" height="1" fill="#fff" />
<rect x="543" y="348" width="4" height="6" fill="#fff" />
<rect x="545" y="355" width="1" height="4" fill="#fff" />
<rect x="544" y="346" width="2" height="1" fill="#fff" />
<rect x="549" y="348" width="4" height="6" fill="#fff" />
<rect x="551" y="355" width="1" height="4" fill="#fff" />
<rect x="550" y="346" width="2" height="1" fill="#fff" />
<rect x="354" y="363" width="227" height="1" fill="#000" />
<rect x="354" y="381" width="227" height="1" fill="#000" />
<rect x="354" y="363" width="1" height="19" fill="#000" />
<rect x="580" y="363" width="1" height="19" fill="#000" />
<rect x="355" y="364" width="9" height="17" fill="#000" />
<rect x="355" y="365" width="8" height="2" fill="#fff" />
<rect x="355" y="368" width="8" height="5" fill="#fff" />
<rect x="355" y="375" width="8" height="5" fill="#fff" />
<rect x="364" y="365" width="3" height="16" fill="#000" />
<path d="M367.5,366.5 H376.5 V374.5 H372.5 V380.5 H367.5 Z M367.5,374.5 H370.5 V372.5 H372.5" fill="#fff" stroke="#000" stroke-width="1"/>
<path d="M569.5,366.5 H560.5 V375.5 H562.5 V380.5 H569.5 Z M562.5,375.5 V373.5 H567.5 V376.5" fill="#fff" stroke="#000" stroke-width="1"/>
<rect x="570" y="365" width="4" height="16" fill="#000" />
<rect x="574" y="364" width="6" height="17" fill="#000" />
<rect x="575" y="365" width="5" height="2" fill="#fff" />
<rect x="575" y="368" width="5" height="5" fill="#fff" />
<rect x="575" y="375" width="5" height="5" fill="#fff" />
<rect x="381" y="365" width="175" height="14" fill="#000" />
<rect x="384" y="367" width="4" height="6" fill="#fff" />
<rect x="386" y="374" width="1" height="4" fill="#fff" />
<rect x="385" y="365" width="2" height="1" fill="#fff" />
<rect x="390" y="367" width="4" height="6" fill="#fff" />
<rect x="392" y="374" width="1" height="4" fill="#fff" />
<rect x="391" y="365" width="2" height="1" fill="#fff" />
<rect x="396" y="367" width="4" height="6" fill="#fff" />
<rect x="398" y="374" width="1" height="4" fill="#fff" />
<rect x="397" y="365" width="2" height="1" fill="#fff" />
<rect x="402" y="367" width="4" height="6" fill="#fff" />
<rect x="404" y="374" width="1" height="4" fill="#fff" />
<rect x="403" y="365" width="2" height="1" fill="#fff" />
<rect x="408" y="367" width="4" height="6" fill="#fff" />
<rect x="410" y="374" width="1" height="4" fill="#fff" />
<rect x="409" y="365" width="2" height="1" fill="#fff" />
<rect x="413" y="367" width="4" height="6" fill="#fff" />
<rect x="415" y="374" width="1" height="4" fill="#fff" />
<rect x="414" y="365" width="2" height="1" fill="#fff" />
<rect x="419" y="367" width="4" height="6" fill="#fff" />
<rect x="421" y="374" width="1" height="4" fill="#fff" />
<rect x="420" y="365" width="2" height="1" fill="#fff" />
<rect x="425" y="367" width="4" height="6" fill="#fff" />
<rect x="427" y="374" width="1" height="4" fill="#fff" />
<rect x="426" y="365" width="2" height="1" fill="#fff" />
<rect x="431" y="367" width="4" height="6" fill="#fff" />
<rect x="433" y="374" width="1" height="4" fill="#fff" />
<rect x="432" y="365" width="2" height="1" fill="#fff" />
<rect x="437" y="367" width="4" height="6" fill="#fff" />
<rect x="439" y="374" width="1" height="4" fill="#fff" />
<rect x="438" y="365" width="2" height="1" fill="#fff" />
<rect x="443" y="367" width="4" height="6" fill="#fff" />
<rect x="445" y="374" width="1" height="4" fill="#fff" />
<rect x="444" y="365" width="2" height="1" fill="#fff" />
<rect x="449" y="367" width="4" height="6" fill="#fff" />
<rect x="451" y="374" width="1" height="4" fill="#fff" />
<rect x="450" y="365" width="2" height="1" fill="#fff" />
<rect x="455" y="367" width="4" height="6" fill="#fff" />
<rect x="457" y="374" width="1" height="4" fill="#fff" />
<rect x="456" y="365" width="2" height="1" fill="#fff" />
<rect x="461" y="367" width="4" height="6" fill="#fff" />
<rect x="463" y="374" width="1" height="4" fill="#fff" />
<rect x="462" y="365" width="2" height="1" fill="#fff" />
<rect x="467" y="367" width="4" height="6" fill="#fff" />
<rect x="469" y="374" width="1" height="4" fill="#fff" />
<rect x="468" y="365" width="2" height="1" fill="#fff" />
<rect x="472" y="367" width="4" height="6" fill="#fff" />
<rect x="474" y="374" width="1" height="4" fill="#fff" />
<rect x="473" y="365" width="2" height="1" fill="#fff" />
<rect x="478" y="367" width="4" height="6" fill="#fff" />
<rect x="480" y="374" width="1" height="4" fill="#fff" />
<rect x="479" y="365" width="2" height="1" fill="#fff" />
<rect x="484" y="367" width="4" height="6" fill="#fff" />
<rect x="486" y="374" width="1" height="4" fill="#fff" />
<rect x="485" y="365" width="2" height="1" fill="#fff" />
<rect x="490" y="367" width="4" height="6" fill="#fff" />
<rect x="492" y="374" width="1" height="4" fill="#fff" />
<rect x="491" y="365" width="2" height="1" fill="#fff" />
<rect x="496" y="367" width="4" height="6" fill="#fff" />
<rect x="498" y="374" width="1" height="4" fill="#fff" />
<rect x="497" y="365" width="2" height="1" fill="#fff" />
<rect x="502" y="367" width="4" height="6" fill="#fff" />
<rect x="504" y="374" width="1" height="4" fill="#fff" />
<rect x="503" y="365" width="2" height="1" fill="#fff" />
<rect x="508" y="367" width="4" height="6" fill="#fff" />
<rect x="510" y="374" width="1" height="4" fill="#fff" />
<rect x="509" y="365" width="2" height="1" fill="#fff" />
<rect x="514" y="367" width="4" height="6" fill="#fff" />
<rect x="516" y="374" width="1" height="4" fill="#fff" />
<rect x="515" y="365" width="2" height="1" fill="#fff" />
<rect x="520" y="367" width="4" height="6" fill="#fff" />
<rect x="522" y="374" width="1" height="4" fill="#fff" />
<rect x="521" y="365" width="2" height="1" fill="#fff" />
<rect x="526" y="367" width="4" height="6" fill="#fff" />
<rect x="528" y="374" width="1" height="4" fill="#fff" />
<rect x="527" y="365" width="2" height="1" fill="#fff" />
<rect x="531" y="367" width="4" height="6" fill="#fff" />
<rect x="533" y="374" width="1" height="4" fill="#fff" />
<rect x="532" y="365" width="2" height="1" fill="#fff" />
<rect x="537" y="367" width="4" height="6" fill="#fff" />
<rect x="539" y="374" width="1" height="4" fill="#fff" />
<rect x="538" y="365" width="2" height="1" fill="#fff" />
<rect x="543" y="367" width="4" height="6" fill="#fff" />
<rect x="545" y="374" width="1" height="4" fill="#fff" />
<rect x="544" y="365" width="2" height="1" fill="#fff" />
<rect x="549" y="367" width="4" height="6" fill="#fff" />
<rect x="551" y="374" width="1" height="4" fill="#fff" />
<rect x="550" y="365" width="2" height="1" fill="#fff" />
<rect x="354" y="382" width="227" height="1" fill="#000" />
<rect x="354" y="400" width="227" height="1" fill="#000" />
<rect x="354" y="382" width="1" height="19" fill="#000" />
<rect x="580" y="382" width="1" height="19" fill="#000" />
<rect x="355" y="383" width="9" height="17" fill="#000" />
<rect x="355" y="384" width="8" height="2" fill="#fff" />
<rect x="355" y="387" width="8" height="5" fill="#fff" />
<rect x="355" y="394" width="8" height="5" fill="#fff" />
<rect x="364" y="384" width="3" height="16" fill="#000" />
<path d="M367.5,385.5 H376.5 V393.5 H372.5 V399.5 H367.5 Z M367.5,393.5 H370.5 V391.5 H372.5" fill="#fff" stroke="#000" stroke-width="1"/>
<path d="M569.5,385.5 H560.5 V394.5 H562.5 V399.5 H569.5 Z M562.5,394.5 V392.5 H567.5 V395.5" fill="#fff" stroke="#000" stroke-width="1"/>
<rect x="570" y="384" width="4" height="16" fill="#000" />
<rect x="574" y="383" width="6" height="17" fill="#000" />
<rect x="575" y="384" width="5" height="2" fill="#fff" />
<rect x="575" y="387" width="5" height="5" fill="#fff" />
<rect x="575" y="394" width="5" height="5" fill="#fff" />
<rect x="381" y="384" width="175" height="14" fill="#000" />
<rect x="384" y="386" width="4" height="6" fill="#fff" />
<rect x="386" y="393" width="1" height="4" fill="#fff" />
<rect x="385" y="384" width="2" height="1" fill="#fff" />
<rect x="390" y="386" width="4" height="6" fill="#fff" />
<rect x="392" y="393" width="1" height="4" fill="#fff" />
<rect x="391" y="384" width="2" height="1" fill="#fff" />
<rect x="396" y="386" width="4" height="6" fill="#fff" />
<rect x="398" y="393" width="1" height="4" fill="#fff" />
<rect x="397" y="384" width="2" height="1" fill="#fff" />
<rect x="402" y="386" width="4" height="6" fill="#fff" />
<rect x="404" y="393" width="1" height="4" fill="#fff" />
<rect x="403" y="384" width="2" height="1" fill="#fff" />
<rect x="408" y="386" width="4" height="6" fill="#fff" />
<rect x="410" y="393" width="1" height="4" fill="#fff" />
<rect x="409" y="384" width="2" height="1" fill="#fff" />
<rect x="413" y="386" width="4" height="6" fill="#fff" />
<rect x="415" y="393" width="1" height="4" fill="#fff" />
<rect x="414" y="384" width="2" height="1" fill="#fff" />
<rect x="419" y="386" width="4" height="6" fill="#fff" />
<rect x="421" y="393" width="1" height="4" fill="#fff" />
<rect x="420" y="384" width="2" height="1" fill="#fff" />
<rect x="425" y="386" width="4" height="6" fill="#fff" />
<rect x="427" y="393" width="1" height="4" fill="#fff" />
<rect x="426" y="384" width="2" height="1" fill="#fff" />
<rect x="431" y="386" width="4" height="6" fill="#fff" />
<rect x="433" y="393" width="1" height="4" fill="#fff" />
<rect x="432" y="384" width="2" height="1" fill="#fff" />
<rect x="437" y="386" width="4" height="6" fill="#fff" />
<rect x="439" y="393" width="1" height="4" fill="#fff" />
<rect x="438" y="384" width="2" height="1" fill="#fff" />
<rect x="443" y="386" width="4" height="6" fill="#fff" />
<rect x="445" y="393" width="1" height="4" fill="#fff" />
<rect x="444" y="384" width="2" height="1" fill="#fff" />
<rect x="449" y="386" width="4" height="6" fill="#fff" />
<rect x="451" y="393" width="1" height="4" fill="#fff" />
<rect x="450" y="384" width="2" height="1" fill="#fff" />
<rect x="455" y="386" width="4" height="6" fill="#fff" />
<rect x="457" y="393" width="1" height="4" fill="#fff" />
<rect x="456" y="384" width="2" height="1" fill="#fff" />
<rect x="461" y="386" width="4" height="6" fill="#fff" />
<rect x="463" y="393" width="1" height="4" fill="#fff" />
<rect x="462" y="384" width="2" height="1" fill="#fff" />
<rect x="467" y="386" width="4" height="6" fill="#fff" />
<rect x="469" y="393" width="1" height="4" fill="#fff" />
<rect x="468" y="384" width="2" height="1" fill="#fff" />
<rect x="472" y="386" width="4" height="6" fill="#fff" />
<rect x="474" y="393" width="1" height="4" fill="#fff" />
<rect x="473" y="384" width="2" height="1" fill="#fff" />
<rect x="478" y="386" width="4" height="6" fill="#fff" />
<rect x="480" y="393" width="1" height="4" fill="#fff" />
<rect x="479" y="384" width="2" height="1" fill="#fff" />
<rect x="484" y="386" width="4" height="6" fill="#fff" />
<rect x="486" y="393" width="1" height="4" fill="#fff" />
<rect x="485" y="384" width="2" height="1" fill="#fff" />
<rect x="490" y="386" width="4" height="6" fill="#fff" />
<rect x="492" y="393" width="1" height="4" fill="#fff" />
<rect x="491" y="384" width="2" height="1" fill="#fff" />
<rect x="496" y="386" width="4" height="6" fill="#fff" />
<rect x="498" y="393" width="1" height="4" fill="#fff" />
<rect x="497" y="384" width="2" height="1" fill="#fff" />
<rect x="502" y="386" width="4" height="6" fill="#fff" />
<rect x="504" y="393" width="1" height="4" fill="#fff" />
<rect x="503" y="384" width="2" height="1" fill="#fff" />
<rect x="508" y="386" width="4" height="6" fill="#fff" />
<rect x="510" y="393" width="1" height="4" fill="#fff" />
<rect x="509" y="384" width="2" height="1" fill="#fff" />
<rect x="514" y="386" width="4" height="6" fill="#fff" />
<rect x="516" y="393" width="1" height="4" fill="#fff" />
<rect x="515" y="384" width="2" height="1" fill="#fff" />
<rect x="520" y="386" width="4" height="6" fill="#fff" />
<rect x="522" y="393" width="1" height="4" fill="#fff" />
<rect x="521" y="384" width="2" height="1" fill="#fff" />
<rect x="526" y="386" width="4" height="6" fill="#fff" />
<rect x="528" y="393" width="1" height="4" fill="#fff" />
<rect x="527" y="384" width="2" height="1" fill="#fff" />
<rect x="531" y="386" width="4" height="6" fill="#fff" />
<rect x="533" y="393" width="1" height="4" fill="#fff" />
<rect x="532" y="384" width="2" height="1" fill="#fff" />
<rect x="537" y="386" width="4" height="6" fill="#fff" />
<rect x="539" y="393" width="1" height="4" fill="#fff" />
<rect x="538" y="384" width="2" height="1" fill="#fff" />
<rect x="543" y="386" width="4" height="6" fill="#fff" />
<rect x="545" y="393" width="1" height="4" fill="#fff" />
<rect x="544" y="384" width="2" height="1" fill="#fff" />
<rect x="549" y="386" width="4" height="6" fill="#fff" />
<rect x="551" y="393" width="1" height="4" fill="#fff" />
<rect x="550" y="384" width="2" height="1" fill="#fff" />
<rect x="354" y="401" width="227" height="1" fill="#000" />
<rect x="354" y="419" width="227" height="1" fill="#000" />
<rect x="354" y="401" width="1" height="19" fill="#000" />
<rect x="580" y="401" width="1" height="19" fill="#000" />
<rect x="355" y="402" width="9" height="17" fill="#000" />
<rect x="355" y="403" width="8" height="2" fill="#fff" />
<rect x="355" y="406" width="8" height="5" fill="#fff" />
<rect x="355" y="413" width="8" height="5" fill="#fff" />
<rect x="364" y="403" width="3" height="16" fill="#000" />
<path d="M367.5,404.5 H376.5 V412.5 H372.5 V418.5 H367.5 Z M367.5,412.5 H370.5 V410.5 H372.5" fill="#fff" stroke="#000" stroke-width="1"/>
<path d="M569.5,404.5 H560.5 V413.5 H562.5 V418.5 H569.5 Z M562.5,413.5 V411.5 H567.5 V414.5" fill="#fff" stroke="#000" stroke-width="1"/>
<rect x="570" y="403" width="4" height="16" fill="#000" />
<rect x="574" y="402" width="6" height="17" fill="#000" />
<rect x="575" y="403" width="5" height="2" fill="#fff" />
<rect x="575" y="406" width="5" height="5" fill="#fff" />
<rect x="575" y="413" width="5" height="5" fill="#fff" />
<rect x="381" y="403" width="175" height="14" fill="#000" />
<rect x="384" y="405" width="4" height="6" fill="#fff" />
<rect x="386" y="412" width="1" height="4" fill="#fff" />
<rect x="385" y="403" width="2" height="1" fill="#fff" />
<rect x="390" y="405" width="4" height="6" fill="#fff" />
<rect x="392" y="412" width="1" height="4" fill="#fff" />
<rect x="391" y="403" width="2" height="1" fill="#fff" />
<rect x="396" y="405" width="4" height="6" fill="#fff" />
<rect x="398" y="412" width="1" height="4" fill="#fff" />
<rect x="397" y="403" width="2" height="1" fill="#fff" />
<rect x="402" y="405" width="4" height="6" fill="#fff" />
<rect x="404" y="412" width="1" height="4" fill="#fff" />
<rect x="403" y="403" width="2" height="1" fill="#fff" />
<rect x="408" y="405" width="4" height="6" fill="#fff" />
<rect x="410" y="412" width="1" height="4" fill="#fff" />
<rect x="409" y="403" width="2" height="1" fill="#fff" />
<rect x="413" y="405" width="4" height="6" fill="#fff" />
<rect x="415" y="412" width="1" height="4" fill="#fff" />
<rect x="414" y="403" width="2" height="1" fill="#fff" />
<rect x="419" y="405" width="4" height="6" fill="#fff" />
<rect x="421" y="412" width="1" height="4" fill="#fff" />
<rect x="420" y="403" width="2" height="1" fill="#fff" />
<rect x="425" y="405" width="4" height="6" fill="#fff" />
<rect x="427" y="412" width="1" height="4" fill="#fff" />
<rect x="426" y="403" width="2" height="1" fill="#fff" />
<rect x="431" y="405" width="4" height="6" fill="#fff" />
<rect x="433" y="412" width="1" height="4" fill="#fff" />
<rect x="432" y="403" width="2" height="1" fill="#fff" />
<rect x="437" y="405" width="4" height="6" fill="#fff" />
<rect x="439" y="412" width="1" height="4" fill="#fff" />
<rect x="438" y="403" width="2" height="1" fill="#fff" />
<rect x="443" y="405" width="4" height="6" fill="#fff" />
<rect x="445" y="412" width="1" height="4" fill="#fff" />
<rect x="444" y="403" width="2" height="1" fill="#fff" />
<rect x="449" y="405" width="4" height="6" fill="#fff" />
<rect x="451" y="412" width="1" height="4" fill="#fff" />
<rect x="450" y="403" width="2" height="1" fill="#fff" />
<rect x="455" y="405" width="4" height="6" fill="#fff" />
<rect x="457" y="412" width="1" height="4" fill="#fff" />
<rect x="456" y="403" width="2" height="1" fill="#fff" />
<rect x="461" y="405" width="4" height="6" fill="#fff" />
<rect x="463" y="412" width="1" height="4" fill="#fff" />
<rect x="462" y="403" width="2" height="1" fill="#fff" />
<rect x="467" y="405" width="4" height="6" fill="#fff" />
<rect x="469" y="412" width="1" height="4" fill="#fff" />
<rect x="468" y="403" width="2" height="1" fill="#fff" />
<rect x="472" y="405" width="4" height="6" fill="#fff" />
<rect x="474" y="412" width="1" height="4" fill="#fff" />
<rect x="473" y="403" width="2" height="1" fill="#fff" />
<rect x="478" y="405" width="4" height="6" fill="#fff" />
<rect x="480" y="412" width="1" height="4" fill="#fff" />
<rect x="479" y="403" width="2" height="1" fill="#fff" />
<rect x="484" y="405" width="4" height="6" fill="#fff" />
<rect x="486" y="412" width="1" height="4" fill="#fff" />
<rect x="485" y="403" width="2" height="1" fill="#fff" />
<rect x="490" y="405" width="4" height="6" fill="#fff" />
<rect x="492" y="412" width="1" height="4" fill="#fff" />
<rect x="491" y="403" width="2" height="1" fill="#fff" />
<rect x="496" y="405" width="4" height="6" fill="#fff" />
<rect x="498" y="412" width="1" height="4" fill="#fff" />
<rect x="497" y="403" width="2" height="1" fill="#fff" />
<rect x="502" y="405" width="4" height="6" fill="#fff" />
<rect x="504" y="412" width="1" height="4" fill="#fff" />
<rect x="503" y="403" width="2" height="1" fill="#fff" />
<rect x="508" y="405" width="4" height="6" fill="#fff" />
<rect x="510" y="412" width="1" height="4" fill="#fff" />
<rect x="509" y="403" width="2" height="1" fill="#fff" />
<rect x="514" y="405" width="4" height="6" fill="#fff" />
<rect x="516" y="412" width="1" height="4" fill="#fff" />
<rect x="515" y="403" width="2" height="1" fill="#fff" />
<rect x="520" y="405" width="4" height="6" fill="#fff" />
<rect x="522" y="412" width="1" height="4" fill="#fff" />
<rect x="521" y="403" width="2" height="1" fill="#fff" />
<rect x="526" y="405" width="4" height="6" fill="#fff" />
<rect x="528" y="412" width="1" height="4" fill="#fff" />
<rect x="527" y="403" width="2" height="1" fill="#fff" />
<rect x="531" y="405" width="4" height="6" fill="#fff" />
<rect x="533" y="412" width="1" height="4" fill="#fff" />
<rect x="532" y="403" width="2" height="1" fill="#fff" />
<rect x="537" y="405" width="4" height="6" fill="#fff" />
<rect x="539" y="412" width="1" height="4" fill="#fff" />
<rect x="538" y="403" width="2" height="1" fill="#fff" />
<rect x="543" y="405" width="4" height="6" fill="#fff" />
<rect x="545" y="412" width="1" height="4" fill="#fff" />
<rect x="544" y="403" width="2" height="1" fill="#fff" />
<rect x="549" y="405" width="4" height="6" fill="#fff" />
<rect x="551" y="412" width="1" height="4" fill="#fff" />
<rect x="550" y="403" width="2" height="1" fill="#fff" />
<rect x="354" y="429" width="227" height="1" fill="#000" />
<rect x="354" y="447" width="227" height="1" fill="#000" />
<rect x="354" y="429" width="1" height="19" fill="#000" />
<rect x="580" y="429" width="1" height="19" fill="#000" />
<rect x="355" y="430" width="9" height="17" fill="#000" />
<rect x="355" y="431" width="8" height="2" fill="#fff" />
<rect x="355" y="434" width="8" height="5" fill="#fff" />
<rect x="355" y="441" width="8" height="5" fill="#fff" />
<rect x="364" y="431" width="3" height="16" fill="#000" />
<path d="M367.5,432.5 H376.5 V440.5 H372.5 V446.5 H367.5 Z M367.5,440.5 H370.5 V438.5 H372.5" fill="#fff" stroke="#000" stroke-width="1"/>
<path d="M569.5,432.5 H560.5 V441.5 H562.5 V446.5 H569.5 Z M562.5,441.5 V439.5 H567.5 V442.5" fill="#fff" stroke="#000" stroke-width="1"/>
<rect x="570" y="431" width="4" height="16" fill="#000" />
<rect x="574" y="430" width="6" height="17" fill="#000" />
<rect x="575" y="431" width="5" height="2" fill="#fff" />
<rect x="575" y="434" width="5" height="5" fill="#fff" />
<rect x="575" y="441" width="5" height="5" fill="#fff" />
<rect x="381" y="431" width="175" height="14" fill="#000" />
<rect x="384" y="433" width="4" height="6" fill="#fff" />
<rect x="386" y="440" width="1" height="4" fill="#fff" />
<rect x="385" y="431" width="2" height="1" fill="#fff" />
<rect x="390" y="433" width="4" height="6" fill="#fff" />
<rect x="392" y="440" width="1" height="4" fill="#fff" />
<rect x="391" y="431" width="2" height="1" fill="#fff" />
<rect x="396" y="433" width="4" height="6" fill="#fff" />
<rect x="398" y="440" width="1" height="4" fill="#fff" />
<rect x="397" y="431" width="2" height="1" fill="#fff" />
<rect x="402" y="433" width="4" height="6" fill="#fff" />
<rect x="404" y="440" width="1" height="4" fill="#fff" />
<rect x="403" y="431" width="2" height="1" fill="#fff" />
<rect x="408" y="433" width="4" height="6" fill="#fff" />
<rect x="410" y="440" width="1" height="4" fill="#fff" />
<rect x="409" y="431" width="2" height="1" fill="#fff" />
<rect x="413" y="433" width="4" height="6" fill="#fff" />
<rect x="415" y="440" width="1" height="4" fill="#fff" />
<rect x="414" y="431" width="2" height="1" fill="#fff" />
<rect x="419" y="433" width="4" height="6" fill="#fff" />
<rect x="421" y="440" width="1" height="4" fill="#fff" />
<rect x="420" y="431" width="2" height="1" fill="#fff" />
<rect x="425" y="433" width="4" height="6" fill="#fff" />
<rect x="427" y="440" width="1" height="4" fill="#fff" />
<rect x="426" y="431" width="2" height="1" fill="#fff" />
<rect x="431" y="433" width="4" height="6" fill="#fff" />
<rect x="433" y="440" width="1" height="4" fill="#fff" />
<rect x="432" y="431" width="2" height="1" fill="#fff" />
<rect x="437" y="433" width="4" height="6" fill="#fff" />
<rect x="439" y="440" width="1" height="4" fill="#fff" />
<rect x="438" y="431" width="2" height="1" fill="#fff" />
<rect x="443" y="433" width="4" height="6" fill="#fff" />
<rect x="445" y="440" width="1" height="4" fill="#fff" />
<rect x="444" y="431" width="2" height="1" fill="#fff" />
<rect x="449" y="433" width="4" height="6" fill="#fff" />
<rect x="451" y="440" width="1" height="4" fill="#fff" />
<rect x="450" y="431" width="2" height="1" fill="#fff" />
<rect x="455" y="433" width="4" height="6" fill="#fff" />
<rect x="457" y="440" width="1" height="4" fill="#fff" />
<rect x="456" y="431" width="2" height="1" fill="#fff" />
<rect x="461" y="433" width="4" height="6" fill="#fff" />
<rect x="463" y="440" width="1" height="4" fill="#fff" />
<rect x="462" y="431" width="2" height="1" fill="#fff" />
<rect x="467" y="433" width="4" height="6" fill="#fff" />
<rect x="469" y="440" width="1" height="4" fill="#fff" />
<rect x="468" y="431" width="2" height="1" fill="#fff" />
<rect x="472" y="433" width="4" height="6" fill="#fff" />
<rect x="474" y="440" width="1" height="4" fill="#fff" />
<rect x="473" y="431" width="2" height="1" fill="#fff" />
<rect x="478" y="433" width="4" height="6" fill="#fff" />
<rect x="480" y="440" width="1" height="4" fill="#fff" />
<rect x="479" y="431" width="2" height="1" fill="#fff" />
<rect x="484" y="433" width="4" height="6" fill="#fff" />
<rect x="486" y="440" width="1" height="4" fill="#fff" />
<rect x="485" y="431" width="2" height="1" fill="#fff" />
<rect x="490" y="433" width="4" height="6" fill="#fff" />
<rect x="492" y="440" width="1" height="4" fill="#fff" />
<rect x="491" y="431" width="2" height="1" fill="#fff" />
<rect x="496" y="433" width="4" height="6" fill="#fff" />
<rect x="498" y="440" width="1" height="4" fill="#fff" />
<rect x="497" y="431" width="2" height="1" fill="#fff" />
<rect x="502" y="433" width="4" height="6" fill="#fff" />
<rect x="504" y="440" width="1" height="4" fill="#fff" />
<rect x="503" y="431" width="2" height="1" fill="#fff" />
<rect x="508" y="433" width="4" height="6" fill="#fff" />
<rect x="510" y="440" width="1" height="4" fill="#fff" />
<rect x="509" y="431" width="2" height="1" fill="#fff" />
<rect x="514" y="433" width="4" height="6" fill="#fff" />
<rect x="516" y="440" width="1" height="4" fill="#fff" />
<rect x="515" y="431" width="2" height="1" fill="#fff" />
<rect x="520" y="433" width="4" height="6" fill="#fff" />
<rect x="522" y="440" width="1" height="4" fill="#fff" />
<rect x="521" y="431" width="2" height="1" fill="#fff" />
<rect x="526" y="433" width="4" height="6" fill="#fff" />
<rect x="528" y="440" width="1" height="4" fill="#fff" />
<rect x="527" y="431" width="2" height="1" fill="#fff" />
<rect x="531" y="433" width="4" height="6" fill="#fff" />
<rect x="533" y="440" width="1" height="4" fill="#fff" />
<rect x="532" y="431" width="2" height="1" fill="#fff" />
<rect x="537" y="433" width="4" height="6" fill="#fff" />
<rect x="539" y="440" width="1" height="4" fill="#fff" />
<rect x="538" y="431" width="2" height="1" fill="#fff" />
<rect x="543" y="433" width="4" height="6" fill="#fff" />
<rect x="545" y="440" width="1" height="4" fill="#fff" />
<rect x="544" y="431" width="2" height="1" fill="#fff" />
<rect x="549" y="433" width="4" height="6" fill="#fff" />
<rect x="551" y="440" width="1" height="4" fill="#fff" />
<rect x="550" y="431" width="2" height="1" fill="#fff" />
<rect x="354" y="448" width="227" height="1" fill="#000" />
<rect x="354" y="466" width="227" height="1" fill="#000" />
<rect x="354" y="448" width="1" height="19" fill="#000" />
<rect x="580" y="448" width="1" height="19" fill="#000" />
<rect x="355" y="449" width="9" height="17" fill="#000" />
<rect x="355" y="450" width="8" height="2" fill="#fff" />
<rect x="355" y="453" width="8" height="5" fill="#fff" />
<rect x="355" y="460" width="8" height="5" fill="#fff" />
<rect x="364" y="450" width="3" height="16" fill="#000" />
<path d="M367.5,451.5 H376.5 V459.5 H372.5 V465.5 H367.5 Z M367.5,459.5 H370.5 V457.5 H372.5" fill="#fff" stroke="#000" stroke-width="1"/>
<path d="M569.5,451.5 H560.5 V460.5 H562.5 V465.5 H569.5 Z M562.5,460.5 V458.5 H567.5 V461.5" fill="#fff" stroke="#000" stroke-width="1"/>
<rect x="570" y="450" width="4" height="16" fill="#000" />
<rect x="574" y="449" width="6" height="17" fill="#000" />
<rect x="575" y="450" width="5" height="2" fill="#fff" />
<rect x="575" y="453" width="5" height="5" fill="#fff" />
<rect x="575" y="460" width="5" height="5" fill="#fff" />
<rect x="381" y="450" width="175" height="14" fill="#000" />
<rect x="384" y="452" width="4" height="6" fill="#fff" />
<rect x="386" y="459" width="1" height="4" fill="#fff" />
<rect x="385" y="450" width="2" height="1" fill="#fff" />
<rect x="390" y="452" width="4" height="6" fill="#fff" />
<rect x="392" y="459" width="1" height="4" fill="#fff" />
<rect x="391" y="450" width="2" height="1" fill="#fff" />
<rect x="396" y="452" width="4" height="6" fill="#fff" />
<rect x="398" y="459" width="1" height="4" fill="#fff" />
<rect x="397" y="450" width="2" height="1" fill="#fff" />
<rect x="402" y="452" width="4" height="6" fill="#fff" />
<rect x="404" y="459" width="1" height="4" fill="#fff" />
<rect x="403" y="450" width="2" height="1" fill="#fff" />
<rect x="408" y="452" width="4" height="6" fill="#fff" />
<rect x="410" y="459" width="1" height="4" fill="#fff" />
<rect x="409" y="450" width="2" height="1" fill="#fff" />
<rect x="413" y="452" width="4" height="6" fill="#fff" />
<rect x="415" y="459" width="1" height="4" fill="#fff" />
<rect x="414" y="450" width="2" height="1" fill="#fff" />
<rect x="419" y="452" width="4" height="6" fill="#fff" />
<rect x="421" y="459" width="1" height="4" fill="#fff" />
<rect x="420" y="450" width="2" height="1" fill="#fff" />
<rect x="425" y="452" width="4" height="6" fill="#fff" />
<rect x="427" y="459" width="1" height="4" fill="#fff" />
<rect x="426" y="450" width="2" height="1" fill="#fff" />
<rect x="431" y="452" width="4" height="6" fill="#fff" />
<rect x="433" y="459" width="1" height="4" fill="#fff" />
<rect x="432" y="450" width="2" height="1" fill="#fff" />
<rect x="437" y="452" width="4" height="6" fill="#fff" />
<rect x="439" y="459" width="1" height="4" fill="#fff" />
<rect x="438" y="450" width="2" height="1" fill="#fff" />
<rect x="443" y="452" width="4" height="6" fill="#fff" />
<rect x="445" y="459" width="1" height="4" fill="#fff" />
<rect x="444" y="450" width="2" height="1" fill="#fff" />
<rect x="449" y="452" width="4" height="6" fill="#fff" />
<rect x="451" y="459" width="1" height="4" fill="#fff" />
<rect x="450" y="450" width="2" height="1" fill="#fff" />
<rect x="455" y="452" width="4" height="6" fill="#fff" />
<rect x="457" y="459" width="1" height="4" fill="#fff" />
<rect x="456" y="450" width="2" height="1" fill="#fff" />
<rect x="461" y="452" width="4" height="6" fill="#fff" />
<rect x="463" y="459" width="1" height="4" fill="#fff" />
<rect x="462" y="450" width="2" height="1" fill="#fff" />
<rect x="467" y="452" width="4" height="6" fill="#fff" />
<rect x="469" y="459" width="1" height="4" fill="#fff" />
<rect x="468" y="450" width="2" height="1" fill="#fff" />
<rect x="472" y="452" width="4" height="6" fill="#fff" />
<rect x="474" y="459" width="1" height="4" fill="#fff" />
<rect x="473" y="450" width="2" height="1" fill="#fff" />
<rect x="478" y="452" width="4" height="6" fill="#fff" />
<rect x="480" y="459" width="1" height="4" fill="#fff" />
<rect x="479" y="450" width="2" height="1" fill="#fff" />
<rect x="484" y="452" width="4" height="6" fill="#fff" />
<rect x="486" y="459" width="1" height="4" fill="#fff" />
<rect x="485" y="450" width="2" height="1" fill="#fff" />
<rect x="490" y="452" width="4" height="6" fill="#fff" />
<rect x="492" y="459" width="1" height="4" fill="#fff" />
<rect x="491" y="450" width="2" height="1" fill="#fff" />
<rect x="496" y="452" width="4" height="6" fill="#fff" />
<rect x="498" y="459" width="1" height="4" fill="#fff" />
<rect x="497" y="450" width="2" height="1" fill="#fff" />
<rect x="502" y="452" width="4" height="6" fill="#fff" />
<rect x="504" y="459" width="1" height="4" fill="#fff" />
<rect x="503" y="450" width="2" height="1" fill="#fff" />
<rect x="508" y="452" width="4" height="6" fill="#fff" />
<rect x="510" y="459" width="1" height="4" fill="#fff" />
<rect x="509" y="450" width="2" height="1" fill="#fff" />
<rect x="514" y="452" width="4" height="6" fill="#fff" />
<rect x="516" y="459" width="1" height="4" fill="#fff" />
<rect x="515" y="450" width="2" height="1" fill="#fff" />
<rect x="520" y="452" width="4" height="6" fill="#fff" />
<rect x="522" y="459" width="1" height="4" fill="#fff" />
<rect x="521" y="450" width="2" height="1" fill="#fff" />
<rect x="526" y="452" width="4" height="6" fill="#fff" />
<rect x="528" y="459" width="1" height="4" fill="#fff" />
<rect x="527" y="450" width="2" height="1" fill="#fff" />
<rect x="531" y="452" width="4" height="6" fill="#fff" />
<rect x="533" y="459" width="1" height="4" fill="#fff" />
<rect x="532" y="450" width="2" height="1" fill="#fff" />
<rect x="537" y="452" width="4" height="6" fill="#fff" />
<rect x="539" y="459" width="1" height="4" fill="#fff" />
<rect x="538" y="450" width="2" height="1" fill="#fff" />
<rect x="543" y="452" width="4" height="6" fill="#fff" />
<rect x="545" y="459" width="1" height="4" fill="#fff" />
<rect x="544" y="450" width="2" height="1" fill="#fff" />
<rect x="549" y="452" width="4" height="6" fill="#fff" />
<rect x="551" y="459" width="1" height="4" fill="#fff" />
<rect x="550" y="450" width="2" height="1" fill="#fff" />
<rect x="354" y="467" width="227" height="1" fill="#000" />
<rect x="354" y="485" width="227" height="1" fill="#000" />
<rect x="354" y="467" width="1" height="19" fill="#000" />
<rect x="580" y="467" width="1" height="19" fill="#000" />
<rect x="355" y="468" width="9" height="17" fill="#000" />
<rect x="355" y="469" width="8" height="2" fill="#fff" />
<rect x="355" y="472" width="8" height="5" fill="#fff" />
<rect x="355" y="479" width="8" height="5" fill="#fff" />
<rect x="364" y="469" width="3" height="16" fill="#000" />
<path d="M367.5,470.5 H376.5 V478.5 H372.5 V484.5 H367.5 Z M367.5,478.5 H370.5 V476.5 H372.5" fill="#fff" stroke="#000" stroke-width="1"/>
<path d="M569.5,470.5 H560.5 V479.5 H562.5 V484.5 H569.5 Z M562.5,479.5 V477.5 H567.5 V480.5" fill="#fff" stroke="#000" stroke-width="1"/>
<rect x="570" y="469" width="4" height="16" fill="#000" />
<rect x="574" y="468" width="6" height="17" fill="#000" />
<rect x="575" y="469" width="5" height="2" fill="#fff" />
<rect x="575" y="472" width="5" height="5" fill="#fff" />
<rect x="575" y="479" width="5" height="5" fill="#fff" />
<rect x="381" y="469" width="175" height="14" fill="#000" />
<rect x="384" y="471" width="4" height="6" fill="#fff" />
<rect x="386" y="478" width="1" height="4" fill="#fff" />
<rect x="385" y="469" width="2" height="1" fill="#fff" />
<rect x="390" y="471" width="4" height="6" fill="#fff" />
<rect x="392" y="478" width="1" height="4" fill="#fff" />
<rect x="391" y="469" width="2" height="1" fill="#fff" />
<rect x="396" y="471" width="4" height="6" fill="#fff" />
<rect x="398" y="478" width="1" height="4" fill="#fff" />
<rect x="397" y="469" width="2" height="1" fill="#fff" />
<rect x="402" y="471" width="4" height="6" fill="#fff" />
<rect x="404" y="478" width="1" height="4" fill="#fff" />
<rect x="403" y="469" width="2" height="1" fill="#fff" />
<rect x="408" y="471" width="4" height="6" fill="#fff" />
<rect x="410" y="478" width="1" height="4" fill="#fff" />
<rect x="409" y="469" width="2" height="1" fill="#fff" />
<rect x="413" y="471" width="4" height="6" fill="#fff" />
<rect x="415" y="478" width="1" height="4" fill="#fff" />
<rect x="414" y="469" width="2" height="1" fill="#fff" />
<rect x="419" y="471" width="4" height="6" fill="#fff" />
<rect x="421" y="478" width="1" height="4" fill="#fff" />
<rect x="420" y="469" width="2" height="1" fill="#fff" />
<rect x="425" y="471" width="4" height="6" fill="#fff" />
<rect x="427" y="478" width="1" height="4" fill="#fff" />
<rect x="426" y="469" width="2" height="1" fill="#fff" />
<rect x="431" y="471" width="4" height="6" fill="#fff" />
<rect x="433" y="478" width="1" height="4" fill="#fff" />
<rect x="432" y="469" width="2" height="1" fill="#fff" />
<rect x="437" y="471" width="4" height="6" fill="#fff" />
<rect x="439" y="478" width="1" height="4" fill="#fff" />
<rect x="438" y="469" width="2" height="1" fill="#fff" />
<rect x="443" y="471" width="4" height="6" fill="#fff" />
<rect x="445" y="478" width="1" height="4" fill="#fff" />
<rect x="444" y="469" width="2" height="1" fill="#fff" />
<rect x="449" y="471" width="4" height="6" fill="#fff" />
<rect x="451" y="478" width="1" height="4" fill="#fff" />
<rect x="450" y="469" width="2" height="1" fill="#fff" />
<rect x="455" y="471" width="4" height="6" fill="#fff" />
<rect x="457" y="478" width="1" height="4" fill="#fff" />
<rect x="456" y="469" width="2" height="1" fill="#fff" />
<rect x="461" y="471" width="4" height="6" fill="#fff" />
<rect x="463" y="478" width="1" height="4" fill="#fff" />
<rect x="462" y="469" width="2" height="1" fill="#fff" />
<rect x="467" y="471" width="4" height="6" fill="#fff" />
<rect x="469" y="478" width="1" height="4" fill="#fff" />
<rect x="468" y="469" width="2" height="1" fill="#fff" />
<rect x="472" y="471" width="4" height="6" fill="#fff" />
<rect x="474" y="478" width="1" height="4" fill="#fff" />
<rect x="473" y="469" width="2" height="1" fill="#fff" />
<rect x="478" y="471" width="4" height="6" fill="#fff" />
<rect x="480" y="478" width="1" height="4" fill="#fff" />
<rect x="479" y="469" width="2" height="1" fill="#fff" />
<rect x="484" y="471" width="4" height="6" fill="#fff" />
<rect x="486" y="478" width="1" height="4" fill="#fff" />
<rect x="485" y="469" width="2" height="1" fill="#fff" />
<rect x="490" y="471" width="4" height="6" fill="#fff" />
<rect x="492" y="478" width="1" height="4" fill="#fff" />
<rect x="491" y="469" width="2" height="1" fill="#fff" />
<rect x="496" y="471" width="4" height="6" fill="#fff" />
<rect x="498" y="478" width="1" height="4" fill="#fff" />
<rect x="497" y="469" width="2" height="1" fill="#fff" />
<rect x="502" y="471" width="4" height="6" fill="#fff" />
<rect x="504" y="478" width="1" height="4" fill="#fff" />
<rect x="503" y="469" width="2" height="1" fill="#fff" />
<rect x="508" y="471" width="4" height="6" fill="#fff" />
<rect x="510" y="478" width="1" height="4" fill="#fff" />
<rect x="509" y="469" width="2" height="1" fill="#fff" />
<rect x="514" y="471" width="4" height="6" fill="#fff" />
<rect x="516" y="478" width="1" height="4" fill="#fff" />
<rect x="515" y="469" width="2" height="1" fill="#fff" />
<rect x="520" y="471" width="4" height="6" fill="#fff" />
<rect x="522" y="478" width="1" height="4" fill="#fff" />
<rect x="521" y="469" width="2" height="1" fill="#fff" />
<rect x="526" y="471" width="4" height="6" fill="#fff" />
<rect x="528" y="478" width="1" height="4" fill="#fff" />
<rect x="527" y="469" width="2" height="1" fill="#fff" />
<rect x="531" y="471" width="4" height="6" fill="#fff" />
<rect x="533" y="478" width="1" height="4" fill="#fff" />
<rect x="532" y="469" width="2" height="1" fill="#fff" />
<rect x="537" y="471" width="4" height="6" fill="#fff" />
<rect x="539" y="478" width="1" height="4" fill="#fff" />
<rect x="538" y="469" width="2" height="1" fill="#fff" />
<rect x="543" y="471" width="4" height="6" fill="#fff" />
<rect x="545" y="478" width="1" height="4" fill="#fff" />
<rect x="544" y="469" width="2" height="1" fill="#fff" />
<rect x="549" y="471" width="4" height="6" fill="#fff" />
<rect x="551" y="478" width="1" height="4" fill="#fff" />
<rect x="550" y="469" width="2" height="1" fill="#fff" />
<rect x="354" y="486" width="227" height="1" fill="#000" />
<rect x="354" y="504" width="227" height="1" fill="#000" />
<rect x="354" y="486" width="1" height="19" fill="#000" />
<rect x="580" y="486" width="1" height="19" fill="#000" />
<rect x="355" y="487" width="9" height="17" fill="#000" />
<rect x="355" y="488" width="8" height="2" fill="#fff" />
<rect x="355" y="491" width="8" height="5" fill="#fff" />
<rect x="355" y="498" width="8" height="5" fill="#fff" />
<rect x="364" y="488" width="3" height="16" fill="#000" />
<path d="M367.5,489.5 H376.5 V497.5 H372.5 V503.5 H367.5 Z M367.5,497.5 H370.5 V495.5 H372.5" fill="#fff" stroke="#000" stroke-width="1"/>
<path d="M569.5,489.5 H560.5 V498.5 H562.5 V503.5 H569.5 Z M562.5,498.5 V496.5 H567.5 V499.5" fill="#fff" stroke="#000" stroke-width="1"/>
<rect x="570" y="488" width="4" height="16" fill="#000" />
<rect x="574" y="487" width="6" height="17" fill="#000" />
<rect x="575" y="488" width="5" height="2" fill="#fff" />
<rect x="575" y="491" width="5" height="5" fill="#fff" />
<rect x="575" y="498" width="5" height="5" fill="#fff" />
<rect x="381" y="488" width="175" height="14" fill="#000" />
<rect x="384" y="490" width="4" height="6" fill="#fff" />
<rect x="386" y="497" width="1" height="4" fill="#fff" />
<rect x="385" y="488" width="2" height="1" fill="#fff" />
<rect x="390" y="490" width="4" height="6" fill="#fff" />
<rect x="392" y="497" width="1" height="4" fill="#fff" />
<rect x="391" y="488" width="2" height="1" fill="#fff" />
<rect x="396" y="490" width="4" height="6" fill="#fff" />
<rect x="398" y="497" width="1" height="4" fill="#fff" />
<rect x="397" y="488" width="2" height="1" fill="#fff" />
<rect x="402" y="490" width="4" height="6" fill="#fff" />
<rect x="404" y="497" width="1" height="4" fill="#fff" />
<rect x="403" y="488" width="2" height="1" fill="#fff" />
<rect x="408" y="490" width="4" height="6" fill="#fff" />
<rect x="410" y="497" width="1" height="4" fill="#fff" />
<rect x="409" y="488" width="2" height="1" fill="#fff" />
<rect x="413" y="490" width="4" height="6" fill="#fff" />
<rect x="415" y="497" width="1" height="4" fill="#fff" />
<rect x="414" y="488" width="2" height="1" fill="#fff" />
<rect x="419" y="490" width="4" height="6" fill="#fff" />
<rect x="421" y="497" width="1" height="4" fill="#fff" />
<rect x="420" y="488" width="2" height="1" fill="#fff" />
<rect x="425" y="490" width="4" height="6" fill="#fff" />
<rect x="427" y="497" width="1" height="4" fill="#fff" />
<rect x="426" y="488" width="2" height="1" fill="#fff" />
<rect x="431" y="490" width="4" height="6" fill="#fff" />
<rect x="433" y="497" width="1" height="4" fill="#fff" />
<rect x="432" y="488" width="2" height="1" fill="#fff" />
<rect x="437" y="490" width="4" height="6" fill="#fff" />
<rect x="439" y="497" width="1" height="4" fill="#fff" />
<rect x="438" y="488" width="2" height="1" fill="#fff" />
<rect x="443" y="490" width="4" height="6" fill="#fff" />
<rect x="445" y="497" width="1" height="4" fill="#fff" />
<rect x="444" y="488" width="2" height="1" fill="#fff" />
<rect x="449" y="490" width="4" height="6" fill="#fff" />
<rect x="451" y="497" width="1" height="4" fill="#fff" />
<rect x="450" y="488" width="2" height="1" fill="#fff" />
<rect x="455" y="490" width="4" height="6" fill="#fff" />
<rect x="457" y="497" width="1" height="4" fill="#fff" />
<rect x="456" y="488" width="2" height="1" fill="#fff" />
<rect x="461" y="490" width="4" height="6" fill="#fff" />
<rect x="463" y="497" width="1" height="4" fill="#fff" />
<rect x="462" y="488" width="2" height="1" fill="#fff" />
<rect x="467" y="490" width="4" height="6" fill="#fff" />
<rect x="469" y="497" width="1" height="4" fill="#fff" />
<rect x="468" y="488" width="2" height="1" fill="#fff" />
<rect x="472" y="490" width="4" height="6" fill="#fff" />
<rect x="474" y="497" width="1" height="4" fill="#fff" />
<rect x="473" y="488" width="2" height="1" fill="#fff" />
<rect x="478" y="490" width="4" height="6" fill="#fff" />
<rect x="480" y="497" width="1" height="4" fill="#fff" />
<rect x="479" y="488" width="2" height="1" fill="#fff" />
<rect x="484" y="490" width="4" height="6" fill="#fff" />
<rect x="486" y="497" width="1" height="4" fill="#fff" />
<rect x="485" y="488" width="2" height="1" fill="#fff" />
<rect x="490" y="490" width="4" height="6" fill="#fff" />
<rect x="492" y="497" width="1" height="4" fill="#fff" />
<rect x="491" y="488" width="2" height="1" fill="#fff" />
<rect x="496" y="490" width="4" height="6" fill="#fff" />
<rect x="498" y="497" width="1" height="4" fill="#fff" />
<rect x="497" y="488" width="2" height="1" fill="#fff" />
<rect x="502" y="490" width="4" height="6" fill="#fff" />
<rect x="504" y="497" width="1" height="4" fill="#fff" />
<rect x="503" y="488" width="2" height="1" fill="#fff" />
<rect x="508" y="490" width="4" height="6" fill="#fff" />
<rect x="510" y="497" width="1" height="4" fill="#fff" />
<rect x="509" y="488" width="2" height="1" fill="#fff" />
<rect x="514" y="490" width="4" height="6" fill="#fff" />
<rect x="516" y="497" width="1" height="4" fill="#fff" />
<rect x="515" y="488" width="2" height="1" fill="#fff" />
<rect x="520" y="490" width="4" height="6" fill="#fff" />
<rect x="522" y="497" width="1" height="4" fill="#fff" />
<rect x="521" y="488" width="2" height="1" fill="#fff" />
<rect x="526" y="490" width="4" height="6" fill="#fff" />
<rect x="528" y="497" width="1" height="4" fill="#fff" />
<rect x="527" y="488" width="2" height="1" fill="#fff" />
<rect x="531" y="490" width="4" height="6" fill="#fff" />
<rect x="533" y="497" width="1" height="4" fill="#fff" />
<rect x="532" y="488" width="2" height="1" fill="#fff" />
<rect x="537" y="490" width="4" height="6" fill="#fff" />
<rect x="539" y="497" width="1" height="4" fill="#fff" />
<rect x="538" y="488" width="2" height="1" fill="#fff" />
<rect x="543" y="490" width="4" height="6" fill="#fff" />
<rect x="545" y="497" width="1" height="4" fill="#fff" />
<rect x="544" y="488" width="2" height="1" fill="#fff" />
<rect x="549" y="490" width="4" height="6" fill="#fff" />
<rect x="551" y="497" width="1" height="4" fill="#fff" />
<rect x="550" y="488" width="2" height="1" fill="#fff" />
<rect x="586" y="392" width="25" height="111" fill="#000" />
<rect x="587" y="393" width="23" height="109" fill="#fff" />
<rect x="602" y="393" width="1" height="109" fill="#000" />
<rect x="589" y="397" width="8" height="7" fill="#000" />
<rect x="590" y="398" width="6" height="5" fill="#fff" />
<rect x="589" y="407" width="8" height="7" fill="#000" />
<rect x="590" y="408" width="6" height="5" fill="#fff" />
<rect x="589" y="416" width="8" height="7" fill="#000" />
<rect x="590" y="417" width="6" height="5" fill="#fff" />
<rect x="589" y="425" width="8" height="7" fill="#000" />
<rect x="590" y="426" width="6" height="5" fill="#fff" />
<rect x="589" y="435" width="8" height="7" fill="#000" />
<rect x="590" y="436" width="6" height="5" fill="#fff" />
<rect x="589" y="445" width="8" height="7" fill="#000" />
<rect x="590" y="446" width="6" height="5" fill="#fff" />
<rect x="589" y="454" width="8" height="7" fill="#000" />
<rect x="590" y="455" width="6" height="5" fill="#fff" />
<rect x="589" y="463" width="8" height="7" fill="#000" />
<rect x="590" y="464" width="6" height="5" fill="#fff" />
<rect x="589" y="473" width="8" height="7" fill="#000" />
<rect x="590" y="474" width="6" height="5" fill="#fff" />
<rect x="589" y="483" width="8" height="7" fill="#000" />
<rect x="590" y="484" width="6" height="5" fill="#fff" />
<rect x="589" y="492" width="8" height="7" fill="#000" />
<rect x="590" y="493" width="6" height="5" fill="#fff" />
<rect x="598" y="393" width="2" height="7" fill="#000" />
<rect x="598" y="403" width="2" height="7" fill="#000" />
<rect x="598" y="412" width="2" height="7" fill="#000" />
<rect x="598" y="421" width="2" height="7" fill="#000" />
<rect x="598" y="431" width="2" height="7" fill="#000" />
<rect x="598" y="441" width="2" height="7" fill="#000" />
<rect x="598" y="450" width="2" height="7" fill="#000" />
<rect x="598" y="459" width="2" height="7" fill="#000" />
<rect x="598" y="469" width="2" height="7" fill="#000" />
<rect x="598" y="479" width="2" height="7" fill="#000" />
<rect x="598" y="488" width="2" height="7" fill="#000" />
<rect x="603.5" y="394.5" width="4" height="7" rx="2" fill="#fff" stroke="#000" stroke-width="1"/>
<rect x="603.5" y="404.5" width="4" height="7" rx="2" fill="#fff" stroke="#000" stroke-width="1"/>
<rect x="603.5" y="413.5" width="4" height="7" rx="2" fill="#fff" stroke="#000" stroke-width="1"/>
<rect x="603.5" y="422.5" width="4" height="7" rx="2" fill="#fff" stroke="#000" stroke-width="1"/>
<rect x="603.5" y="432.5" width="4" height="7" rx="2" fill="#fff" stroke="#000" stroke-width="1"/>
<rect x="603.5" y="442.5" width="4" height="7" rx="2" fill="#fff" stroke="#000" stroke-width="1"/>
<rect x="603.5" y="451.5" width="4" height="7" rx="2" fill="#fff" stroke="#000" stroke-width="1"/>
<rect x="603.5" y="460.5" width="4" height="7" rx="2" fill="#fff" stroke="#000" stroke-width="1"/>
<rect x="603.5" y="470.5" width="4" height="7" rx="2" fill="#fff" stroke="#000" stroke-width="1"/>
<rect x="603.5" y="480.5" width="4" height="7" rx="2" fill="#fff" stroke="#000" stroke-width="1"/>
<rect x="603.5" y="489.5" width="4" height="7" rx="2" fill="#fff" stroke="#000" stroke-width="1"/>
<rect x="589" y="393" width="8" height="2" fill="#000" />
<path d="M619,374.5 L641,374.5 Q643.5,376 642,380 Q641,384 643,388 Q644.5,392 642,396 Q641,400 643,404 Q644,409 642,412 Q640,414.5 630,414 L620,414 Q616,413 617.5,409 Q619,405 617,401 Q616,397 618,393 Q619,389 617,385 Q616,381 617.5,377 Q618,374.5 619,374.5 Z" fill="none" stroke="#000" stroke-width="1"/>
<rect x="619" y="430" width="24" height="38" fill="#000" />
<rect x="643" y="426" width="3" height="46" fill="#000" />
<rect x="646" y="424" width="4" height="50" fill="#000" />
<rect x="616" y="437" width="3" height="24" fill="#000" />
<rect x="616" y="447" width="3" height="4" fill="#fff" />
<rect x="612" y="439" width="5" height="9" fill="#000" />
<rect x="613" y="440" width="3" height="7" fill="#fff" />
<rect x="612" y="450" width="5" height="9" fill="#000" />
<rect x="613" y="451" width="3" height="7" fill="#fff" />
<rect x="60" y="4" width="7" height="26" fill="#000" />
<rect x="61" y="5" width="5" height="1" fill="#fff" />
<rect x="65" y="5" width="1" height="24" fill="#fff" />
<rect x="61" y="28" width="5" height="1" fill="#fff" />
<rect x="61" y="10" width="4" height="1" fill="#fff" />
<rect x="61" y="17" width="4" height="1" fill="#fff" />
<rect x="61" y="24" width="4" height="1" fill="#fff" />
<rect x="62" y="7" width="2" height="2" fill="#fff" />
<rect x="60" y="32" width="7" height="14" fill="#000" />
<rect x="61" y="33" width="5" height="1" fill="#fff" />
<rect x="65" y="33" width="1" height="12" fill="#fff" />
<rect x="61" y="44" width="5" height="1" fill="#fff" />
<rect x="61" y="39" width="4" height="1" fill="#fff" />
<rect x="60" y="48" width="7" height="12" fill="#000" />
<rect x="61" y="49" width="5" height="1" fill="#fff" />
<rect x="65" y="49" width="1" height="10" fill="#fff" />
<rect x="61" y="58" width="5" height="1" fill="#fff" />
<rect x="61" y="54" width="4" height="1" fill="#fff" />
<rect x="60" y="63" width="7" height="31" fill="#000" />
<rect x="61" y="64" width="5" height="1" fill="#fff" />
<rect x="65" y="64" width="1" height="29" fill="#fff" />
<rect x="61" y="92" width="5" height="1" fill="#fff" />
<rect x="61" y="69" width="4" height="1" fill="#fff" />
<rect x="61" y="75" width="4" height="1" fill="#fff" />
<rect x="61" y="82" width="4" height="1" fill="#fff" />
<rect x="61" y="88" width="4" height="1" fill="#fff" />
<rect x="62" y="66" width="2" height="2" fill="#fff" />
<rect x="60" y="97" width="7" height="14" fill="#000" />
<rect x="61" y="98" width="5" height="1" fill="#fff" />
<rect x="65" y="98" width="1" height="12" fill="#fff" />
<rect x="61" y="109" width="5" height="1" fill="#fff" />
<rect x="61" y="104" width="4" height="1" fill="#fff" />
<rect x="71" y="80" width="6" height="14" fill="#000" />
<rect x="72" y="81" width="4" height="1" fill="#fff" />
<rect x="72" y="87" width="4" height="1" fill="#fff" />
<rect x="72" y="92" width="4" height="1" fill="#fff" />
<rect x="70" y="111" width="13" height="30" fill="#000" />
<rect x="71" y="112" width="11" height="1" fill="#fff" />
<rect x="76" y="114" width="1" height="4" fill="#fff" />
<rect x="76" y="119" width="1" height="4" fill="#fff" />
<rect x="76" y="124" width="1" height="4" fill="#fff" />
<rect x="76" y="129" width="1" height="4" fill="#fff" />
<rect x="76" y="134" width="1" height="4" fill="#fff" />
<rect x="78" y="187" width="7" height="19" fill="#000" />
<rect x="79" y="188" width="1" height="17" fill="#fff" />
<rect x="80" y="204" width="4" height="1" fill="#fff" />
<rect x="80" y="193" width="3" height="1" fill="#fff" />
<rect x="80" y="199" width="3" height="1" fill="#fff" />
<rect x="80" y="201" width="3" height="2" fill="#fff" />
<rect x="81" y="202" width="1" height="0.5" fill="#000" />
<rect x="221" y="234" width="19" height="6" fill="#000" />
<rect x="222" y="235" width="6" height="4" fill="#fff" />
<rect x="224" y="236" width="2" height="2" fill="#000" />
<rect x="230" y="235" width="1" height="4" fill="#fff" />
<rect x="234" y="235" width="1" height="4" fill="#fff" />
<rect x="371" y="289" width="14" height="13" fill="#000" />
<rect x="372" y="290" width="1" height="5" fill="#fff" />
<rect x="372" y="296" width="1" height="5" fill="#fff" />
<rect x="378" y="290" width="1" height="5" fill="#fff" />
<rect x="378" y="296" width="1" height="5" fill="#fff" />
<rect x="383" y="290" width="1" height="5" fill="#fff" />
<rect x="383" y="296" width="1" height="5" fill="#fff" />
<rect x="372" y="300" width="12" height="1" fill="#fff" />
<rect x="385" y="295" width="13" height="7" fill="#000" />
<rect x="386" y="296" width="1" height="5" fill="#fff" />
<rect x="390" y="296" width="1" height="5" fill="#fff" />
<rect x="396" y="296" width="1" height="5" fill="#fff" />
<rect x="386" y="300" width="11" height="1" fill="#fff" />
<rect x="629" y="292" width="7" height="25" fill="#000" />
<rect x="630" y="293" width="5" height="1" fill="#fff" />
<rect x="634" y="293" width="1" height="23" fill="#fff" />
<rect x="630" y="315" width="5" height="1" fill="#fff" />
<rect x="630" y="298" width="4" height="1" fill="#fff" />
<rect x="630" y="304" width="4" height="1" fill="#fff" />
<rect x="630" y="311" width="4" height="1" fill="#fff" />
<rect x="631" y="295" width="2" height="2" fill="#fff" />
<rect x="629" y="316" width="7" height="20" fill="#000" />
<rect x="630" y="317" width="5" height="1" fill="#fff" />
<rect x="634" y="317" width="1" height="18" fill="#fff" />
<rect x="630" y="334" width="5" height="1" fill="#fff" />
<rect x="630" y="323" width="4" height="1" fill="#fff" />
<rect x="630" y="329" width="4" height="1" fill="#fff" />
<rect x="631" y="319" width="2" height="2" fill="#fff" />
<rect x="255" y="415" width="7" height="31" fill="#000" />
<rect x="256" y="416" width="1" height="29" fill="#fff" />
<rect x="256" y="416" width="5" height="1" fill="#fff" />
<rect x="257" y="422" width="4" height="1" fill="#fff" />
<rect x="257" y="427" width="4" height="1" fill="#fff" />
<rect x="257" y="433" width="4" height="1" fill="#fff" />
<rect x="257" y="439" width="4" height="1" fill="#fff" />
<rect x="258" y="441" width="2" height="3" fill="#fff" />
<rect x="266" y="418" width="7" height="26.5" fill="#000" />
<rect x="267" y="419" width="5" height="1" fill="#fff" />
<rect x="267" y="425" width="5" height="1" fill="#fff" />
<rect x="267" y="430" width="5" height="1" fill="#fff" />
<rect x="267" y="432" width="5" height="1" fill="#fff" />
<rect x="267" y="438" width="5" height="1" fill="#fff" />
<rect x="267" y="443" width="5" height="1" fill="#fff" />
<rect x="280" y="431" width="6" height="13.7" fill="#000" />
<rect x="281" y="432" width="4" height="1" fill="#fff" />
<rect x="281" y="438" width="4" height="1" fill="#fff" />
<rect x="281" y="443" width="4" height="1" fill="#fff" />
<rect x="63" y="498" width="44" height="7" fill="#000" />
<rect x="64" y="499" width="1.2" height="5" fill="#fff" />
<rect x="70" y="499" width="1.2" height="5" fill="#fff" />
<rect x="76" y="499" width="1.2" height="5" fill="#fff" />
<rect x="81.5" y="499" width="1.2" height="5" fill="#fff" />
<rect x="87" y="499" width="1.2" height="5" fill="#fff" />
<rect x="93" y="499" width="1.2" height="5" fill="#fff" />
<rect x="99" y="499" width="1.2" height="5" fill="#fff" />
<rect x="105" y="499" width="1.2" height="5" fill="#fff" />
<rect x="66" y="499.5" width="3.5" height="4.0" fill="#fff" />
<rect x="67" y="500.5" width="1.5" height="2.0" fill="#000" />
<polygon points="43.0,21.5 48.1,20.1 54.9,18.9 60.0,18.1 60.0,16.9 54.9,16.1 48.1,14.9 43.0,13.5" fill="#000" />
<rect x="18.00" y="8.00" width="26.00" height="19.00" rx="3" fill="#000"/>
<rect x="20.00" y="10.00" width="22.00" height="14.80" rx="1.5" fill="#fff"/>
<line x1="40.00" y1="17.50" x2="50.65" y2="17.50" stroke="#fff" stroke-width="1.1"/>
<text transform="translate(23.40,22.80) scale(0.75,1)" font-size="14.20" textLength="17.47" lengthAdjust="spacing" fill="#000">J6</text>
<polygon points="43.0,43.0 48.1,41.6 54.9,40.4 60.0,39.6 60.0,38.4 54.9,37.6 48.1,36.4 43.0,35.0" fill="#000" />
<rect x="3.00" y="30.00" width="41.30" height="19.00" rx="3" fill="#000"/>
<rect x="5.00" y="32.00" width="37.30" height="14.00" rx="1.5" fill="#fff"/>
<line x1="40.00" y1="39.00" x2="50.65" y2="39.00" stroke="#fff" stroke-width="1.1"/>
<text transform="translate(7.20,43.70) scale(0.75,1)" font-size="14.20" textLength="39.07" lengthAdjust="spacing" fill="#000">JP16</text>
<polygon points="83.0,50.5 78.2,51.9 71.8,53.1 67.0,53.9 67.0,55.1 71.8,55.9 78.2,57.1 83.0,58.5" fill="#000" />
<rect x="82.00" y="45.00" width="41.00" height="19.60" rx="3" fill="#000"/>
<rect x="84.00" y="47.00" width="37.00" height="14.70" rx="1.5" fill="#fff"/>
<line x1="86.00" y1="54.50" x2="75.80" y2="54.50" stroke="#fff" stroke-width="1.1"/>
<text transform="translate(86.40,59.70) scale(0.75,1)" font-size="14.20" textLength="38.13" lengthAdjust="spacing" fill="#000">JP17</text>
<polygon points="43.0,85.5 48.1,84.1 54.9,82.9 60.0,82.1 60.0,80.9 54.9,80.1 48.1,78.9 43.0,77.5" fill="#000" />
<rect x="18.30" y="72.00" width="25.90" height="18.50" rx="3" fill="#000"/>
<rect x="20.30" y="74.00" width="21.90" height="14.50" rx="1.5" fill="#fff"/>
<line x1="40.00" y1="81.50" x2="50.65" y2="81.50" stroke="#fff" stroke-width="1.1"/>
<text transform="translate(23.10,86.90) scale(0.75,1)" font-size="14.50" textLength="17.87" lengthAdjust="spacing" fill="#000">J5</text>
<polygon points="94.0,82.5 88.9,83.9 82.1,85.1 77.0,85.9 77.0,87.1 82.1,87.9 88.9,89.1 94.0,90.5" fill="#000" />
<rect x="93.40" y="78.00" width="36.40" height="17.40" rx="3" fill="#000"/>
<rect x="95.40" y="80.00" width="32.40" height="13.40" rx="1.5" fill="#fff"/>
<line x1="97.00" y1="86.50" x2="86.35" y2="86.50" stroke="#fff" stroke-width="1.1"/>
<text transform="translate(99.40,92.00) scale(0.75,1)" font-size="14.49" textLength="28.53" lengthAdjust="spacing" fill="#000">JP1</text>
<polygon points="43.5,106.5 48.45,105.1 55.05,103.9 60.0,103.1 60.0,101.9 55.05,101.1 48.45,99.9 43.5,98.5" fill="#000" />
<rect x="9.20" y="94.50" width="35.60" height="17.10" rx="3" fill="#000"/>
<rect x="11.20" y="96.50" width="31.60" height="13.10" rx="1.5" fill="#fff"/>
<line x1="40.50" y1="102.50" x2="50.92" y2="102.50" stroke="#fff" stroke-width="1.1"/>
<text transform="translate(11.30,107.80) scale(0.75,1)" font-size="14.20" textLength="39.87" lengthAdjust="spacing" fill="#000">JP18</text>
<polygon points="52.5,124.0 57.75,122.6 64.75,121.4 70.0,120.6 70.0,119.4 64.75,118.6 57.75,117.4 52.5,116.0" fill="#000" />
<rect x="13.00" y="112.00" width="40.60" height="18.00" rx="3" fill="#000"/>
<rect x="15.00" y="114.00" width="36.60" height="13.80" rx="1.5" fill="#fff"/>
<line x1="49.50" y1="120.00" x2="60.38" y2="120.00" stroke="#fff" stroke-width="1.1"/>
<text transform="translate(17.20,125.80) scale(0.75,1)" font-size="14.50" textLength="39.07" lengthAdjust="spacing" fill="#000">JP19</text>
<polygon points="99.5,111.0 94.55,112.4 87.95,113.6 83.0,114.4 83.0,115.6 87.95,116.4 94.55,117.6 99.5,119.0" fill="#000" />
<rect x="98.70" y="106.40" width="40.70" height="18.20" rx="3" fill="#000"/>
<rect x="100.70" y="108.40" width="36.70" height="14.20" rx="1.5" fill="#fff"/>
<line x1="102.50" y1="115.00" x2="92.08" y2="115.00" stroke="#fff" stroke-width="1.1"/>
<text transform="translate(103.60,121.10) scale(0.75,1)" font-size="14.20" textLength="39.20" lengthAdjust="spacing" fill="#000">JP20</text>
<polygon points="60.56,144.57 63.26,140.5 67.3,135.58 70.38,131.96 69.62,131.04 65.5,133.42 59.94,136.5 55.44,138.43" fill="#000" />
<rect x="20.50" y="140.10" width="41.20" height="17.60" rx="3" fill="#000"/>
<rect x="22.50" y="142.10" width="37.20" height="13.60" rx="1.5" fill="#fff"/>
<line x1="55.70" y1="143.42" x2="63.40" y2="137.00" stroke="#fff" stroke-width="1.1"/>
<text transform="translate(24.40,153.80) scale(0.75,1)" font-size="13.77" textLength="40.53" lengthAdjust="spacing" fill="#000">JP40</text>
<polygon points="95.75,132.1 91.79,130.27 86.96,127.34 83.41,125.07 82.59,125.93 85.04,129.36 88.21,134.03 90.25,137.9" fill="#000" />
<rect x="90.40" y="133.40" width="40.70" height="18.10" rx="3" fill="#000"/>
<rect x="92.40" y="135.40" width="36.70" height="14.10" rx="1.5" fill="#fff"/>
<line x1="95.17" y1="137.07" x2="88.50" y2="130.72" stroke="#fff" stroke-width="1.1"/>
<text transform="translate(96.30,148.10) scale(0.75,1)" font-size="13.48" textLength="39.20" lengthAdjust="spacing" fill="#000">JP41</text>
<polygon points="79.7,160.5 78.3,154.65 77.1,146.85 76.3,141.0 75.1,141.0 74.3,146.85 73.1,154.65 71.7,160.5" fill="#000" />
<rect x="55.20" y="159.00" width="43.70" height="18.80" rx="3" fill="#000"/>
<rect x="57.20" y="161.00" width="39.70" height="14.70" rx="1.5" fill="#fff"/>
<line x1="75.70" y1="163.50" x2="75.70" y2="151.72" stroke="#fff" stroke-width="1.1"/>
<text transform="translate(60.30,173.70) scale(0.75,1)" font-size="14.20" textLength="40.67" lengthAdjust="spacing" fill="#000">JP42</text>
<polygon points="61.5,200.5 66.45,199.1 73.05,197.9 78.0,197.1 78.0,195.9 73.05,195.1 66.45,193.9 61.5,192.5" fill="#000" />
<rect x="21.10" y="187.10" width="41.80" height="18.70" rx="3" fill="#000"/>
<rect x="23.10" y="189.10" width="37.80" height="14.70" rx="1.5" fill="#fff"/>
<line x1="58.50" y1="196.50" x2="68.92" y2="196.50" stroke="#fff" stroke-width="1.1"/>
<text transform="translate(26.20,201.80) scale(0.75,1)" font-size="13.77" textLength="38.93" lengthAdjust="spacing" fill="#000">JP44</text>
<polygon points="234.5,259.0 233.1,253.3 231.9,245.7 231.1,240.0 229.9,240.0 229.1,245.7 227.9,253.3 226.5,259.0" fill="#000" />
<rect x="209.20" y="258.00" width="42.50" height="18.90" rx="3" fill="#000"/>
<rect x="211.20" y="260.00" width="38.50" height="14.60" rx="1.5" fill="#fff"/>
<line x1="230.50" y1="262.00" x2="230.50" y2="250.45" stroke="#fff" stroke-width="1.1"/>
<text transform="translate(215.50,272.60) scale(0.75,1)" font-size="13.91" textLength="38.53" lengthAdjust="spacing" fill="#000">JP43</text>
<polygon points="365.3,280.95 369.84,283.22 375.45,286.73 379.59,289.44 380.41,288.56 377.35,284.67 373.36,279.38 370.7,275.05" fill="#000" />
<rect x="330.10" y="261.90" width="41.90" height="17.60" rx="3" fill="#000"/>
<rect x="332.10" y="263.90" width="37.90" height="13.60" rx="1.5" fill="#fff"/>
<line x1="365.79" y1="275.97" x2="373.40" y2="282.95" stroke="#fff" stroke-width="1.1"/>
<text transform="translate(335.50,275.90) scale(0.75,1)" font-size="13.91" textLength="38.80" lengthAdjust="spacing" fill="#000">JP30</text>
<polygon points="415.0,294.0 410.05,295.4 403.45,296.6 398.5,297.4 398.5,298.6 403.45,299.4 410.05,300.6 415.0,302.0" fill="#000" />
<rect x="414.00" y="289.00" width="41.70" height="19.00" rx="3" fill="#000"/>
<rect x="416.00" y="291.00" width="37.70" height="14.00" rx="1.5" fill="#fff"/>
<line x1="418.00" y1="298.00" x2="407.57" y2="298.00" stroke="#fff" stroke-width="1.1"/>
<text transform="translate(419.30,302.80) scale(0.75,1)" font-size="14.20" textLength="38.93" lengthAdjust="spacing" fill="#000">JP29</text>
<polygon points="382.0,321.0 380.6,315.3 379.4,307.7 378.6,302.0 377.4,302.0 376.6,307.7 375.4,315.3 374.0,321.0" fill="#000" />
<rect x="356.30" y="320.00" width="43.70" height="18.00" rx="3" fill="#000"/>
<rect x="358.30" y="322.00" width="39.70" height="14.00" rx="1.5" fill="#fff"/>
<line x1="378.00" y1="324.00" x2="378.00" y2="312.45" stroke="#fff" stroke-width="1.1"/>
<text transform="translate(360.30,334.20) scale(0.75,1)" font-size="14.20" textLength="41.07" lengthAdjust="spacing" fill="#000">JP31</text>
<polygon points="612.5,308.0 617.45,306.6 624.05,305.4 629.0,304.6 629.0,303.4 624.05,302.6 617.45,301.4 612.5,300.0" fill="#000" />
<rect x="588.40" y="296.00" width="25.30" height="18.00" rx="3" fill="#000"/>
<rect x="590.40" y="298.00" width="21.30" height="14.00" rx="1.5" fill="#fff"/>
<line x1="609.50" y1="304.00" x2="619.92" y2="304.00" stroke="#fff" stroke-width="1.1"/>
<text transform="translate(592.50,310.00) scale(0.75,1)" font-size="14.50" textLength="17.47" lengthAdjust="spacing" fill="#000">J4</text>
<polygon points="636.0,353.0 634.6,347.6 633.4,340.4 632.6,335.0 631.4,335.0 630.6,340.4 629.4,347.6 628.0,353.0" fill="#000" />
<rect x="615.60" y="352.00" width="31.70" height="18.00" rx="3" fill="#000"/>
<rect x="617.60" y="354.00" width="27.70" height="14.00" rx="1.5" fill="#fff"/>
<line x1="632.00" y1="356.00" x2="632.00" y2="344.90" stroke="#fff" stroke-width="1.1"/>
<text transform="translate(619.50,366.60) scale(0.75,1)" font-size="14.20" textLength="30.67" lengthAdjust="spacing" fill="#000">JP2</text>
<polygon points="241.31,413.96 245.55,415.92 250.76,419.04 254.6,421.44 255.4,420.56 252.64,416.96 249.05,412.08 246.69,408.04" fill="#000" />
<rect x="205.10" y="395.10" width="41.80" height="18.40" rx="3" fill="#000"/>
<rect x="207.10" y="397.10" width="37.80" height="13.80" rx="1.5" fill="#fff"/>
<line x1="241.78" y1="408.98" x2="248.95" y2="415.50" stroke="#fff" stroke-width="1.1"/>
<text transform="translate(209.20,408.90) scale(0.75,1)" font-size="14.06" textLength="38.67" lengthAdjust="spacing" fill="#000">JP11</text>
<polygon points="279.5,409.88 277.38,413.37 274.13,417.51 271.63,420.53 272.37,421.47 275.87,419.69 280.62,417.43 284.5,416.12" fill="#000" />
<rect x="279.10" y="398.30" width="33.50" height="16.50" rx="3" fill="#000"/>
<rect x="281.10" y="400.30" width="29.50" height="12.50" rx="1.5" fill="#fff"/>
<line x1="284.34" y1="411.13" x2="277.50" y2="416.60" stroke="#fff" stroke-width="1.1"/>
<text transform="translate(285.10,412.50) scale(0.75,1)" font-size="13.91" textLength="29.60" lengthAdjust="spacing" fill="#000">JP6</text>
<polygon points="302.0,433.5 297.2,434.9 290.8,436.1 286.0,436.9 286.0,438.1 290.8,438.9 297.2,440.1 302.0,441.5" fill="#000" />
<rect x="301.00" y="428.80" width="36.20" height="18.20" rx="3" fill="#000"/>
<rect x="303.00" y="430.80" width="32.20" height="14.00" rx="1.5" fill="#fff"/>
<line x1="305.00" y1="437.50" x2="294.80" y2="437.50" stroke="#fff" stroke-width="1.1"/>
<text transform="translate(308.80,442.80) scale(0.75,1)" font-size="14.20" textLength="29.73" lengthAdjust="spacing" fill="#000">JP9</text>
<polygon points="279.83,451.17 277.34,450.66 274.49,449.51 272.42,448.58 271.58,449.42 272.51,451.49 273.66,454.34 274.17,456.83" fill="#000" />
<rect x="274.50" y="451.20" width="36.80" height="20.00" rx="3" fill="#000"/>
<rect x="276.50" y="453.20" width="32.80" height="15.00" rx="1.5" fill="#fff"/>
<line x1="279.12" y1="456.12" x2="274.75" y2="451.75" stroke="#fff" stroke-width="1.1"/>
<text transform="translate(279.50,465.80) scale(0.75,1)" font-size="14.20" textLength="30.40" lengthAdjust="spacing" fill="#000">JP7</text>
<polygon points="125.5,497.0 120.4,498.4 113.6,499.6 108.5,500.4 108.5,501.6 113.6,502.4 120.4,503.6 125.5,505.0" fill="#000" />
<rect x="124.50" y="492.10" width="34.40" height="18.10" rx="3" fill="#000"/>
<rect x="126.50" y="494.10" width="30.40" height="13.90" rx="1.5" fill="#fff"/>
<line x1="128.50" y1="501.00" x2="117.85" y2="501.00" stroke="#fff" stroke-width="1.1"/>
<text transform="translate(130.50,506.00) scale(0.75,1)" font-size="13.77" textLength="30.53" lengthAdjust="spacing" fill="#000">JP4</text>
<rect x="171.30" y="456.70" width="30.50" height="17.20" rx="3" fill="#000"/>
<rect x="173.30" y="458.70" width="26.50" height="13.20" rx="1.5" fill="#fff"/>
<text transform="translate(175.70,471.00) scale(0.75,1)" font-size="14.49" textLength="30.40" lengthAdjust="spacing" fill="#000">TAG</text>
<rect x="240.20" y="528.90" width="50.60" height="19.00" rx="3" fill="#000"/>
<rect x="242.20" y="530.90" width="46.60" height="15.00" rx="1.5" fill="#fff"/>
<text transform="translate(243.00,543.90) scale(0.75,1)" font-size="14.49" textLength="58.40" lengthAdjust="spacing" fill="#000">CACHE</text>
<rect x="438.60" y="374.20" width="57.70" height="15.30" rx="2.5" fill="#000"/>
<rect x="440.20" y="375.60" width="54.70" height="12.70" rx="1.5" fill="#fff"/>
<text transform="translate(444.20,386.80) scale(0.75,1)" font-size="13.77" textLength="61.87" lengthAdjust="spacing" fill="#000">BANK 0</text>
<rect x="438.60" y="458.80" width="57.70" height="15.50" rx="2.5" fill="#000"/>
<rect x="440.20" y="460.20" width="54.70" height="12.90" rx="1.5" fill="#fff"/>
<text transform="translate(444.20,471.80) scale(0.75,1)" font-size="13.77" textLength="61.87" lengthAdjust="spacing" fill="#000">BANK 1</text>
<rect x="175.7" y="100.8" width="20.5" height="14.1" fill="#fff" />
<text transform="translate(177.50,112.70) scale(0.75,1)" font-size="13.91" textLength="20.00" lengthAdjust="spacing" fill="#000">S1</text>
<rect x="175.7" y="143.3" width="20.5" height="13.4" fill="#fff" />
<text transform="translate(177.50,154.80) scale(0.75,1)" font-size="13.33" textLength="20.00" lengthAdjust="spacing" fill="#000">S2</text>
<rect x="175.7" y="186" width="20.5" height="13.6" fill="#fff" />
<text transform="translate(177.50,197.70) scale(0.75,1)" font-size="13.33" textLength="20.00" lengthAdjust="spacing" fill="#000">S3</text>
<text transform="translate(577.30,43.80) scale(0.9,1)" font-size="10.50" textLength="48.44" lengthAdjust="spacing" fill="#000">MH1696</text>
<polyline points="187,511.5 191.5,519.5 261.5,519.5 266,527 270.5,519.5 333.5,519.5 338,509" fill="none" stroke="#000" stroke-width="1"/>
</g>
</svg>
</body></html>
